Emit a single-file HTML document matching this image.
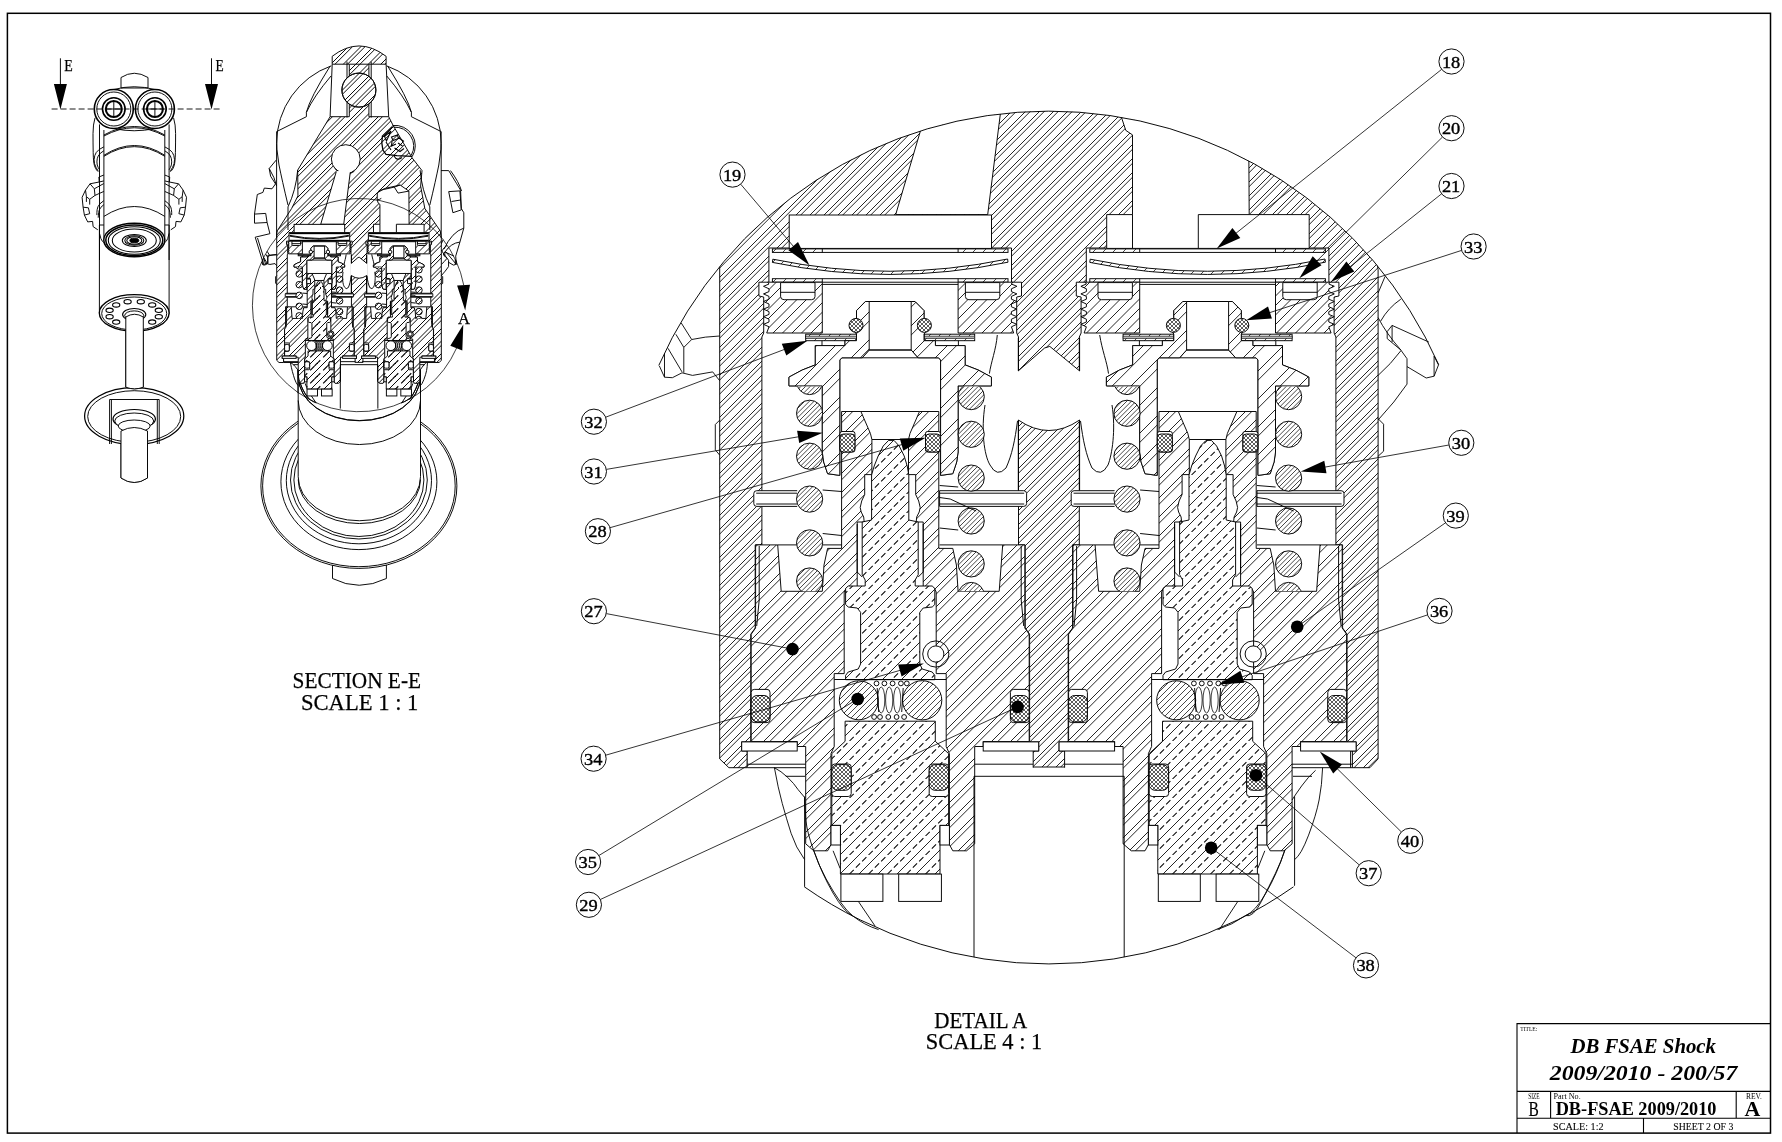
<!DOCTYPE html><html><head><meta charset="utf-8"><title>DB FSAE Shock</title><style>html,body{margin:0;padding:0;background:#fff}svg text{font-family:"Liberation Serif",serif;fill:#000}</style></head><body><svg width="1782" height="1142" viewBox="0 0 1782 1142" style="display:block;filter:grayscale(1)"><defs><pattern id="hH" patternUnits="userSpaceOnUse" width="14" height="14"><path d="M-1 4L4 -1M2 15L15 2M-1 8.74L8.74 -1M6.74 15L15 6.74" stroke="#000" stroke-width="0.85" fill="none"/></pattern><pattern id="hB" patternUnits="userSpaceOnUse" width="19" height="19"><path d="M-1 5L5 -1M3 20L20 3M-1 11.31L11.31 -1M9.31 20L20 9.31" stroke="#000" stroke-width="0.85" fill="none"/></pattern><pattern id="hC" patternUnits="userSpaceOnUse" width="28" height="28"><path d="M-1 6L6 -1M4 29L29 4M-1 15.19L15.19 -1M13.19 29L29 13.19" stroke="#000" stroke-width="0.85" fill="none"/></pattern><pattern id="hN" patternUnits="userSpaceOnUse" width="19" height="19"><path d="M-1 5L5 -1M3 20L20 3M-1 14.5L14.5 -1M12.5 20L20 12.5" stroke="#000" stroke-width="0.85" fill="none"/></pattern><pattern id="hS" patternUnits="userSpaceOnUse" width="14" height="14"><path d="M-1 3L3 -1M1 15L15 1M-1 7.67L7.67 -1M5.67 15L15 5.67M-1 12.33L12.33 -1M10.33 15L15 10.33" stroke="#000" stroke-width="0.7224999999999999" fill="none"/></pattern><pattern id="hL" patternUnits="userSpaceOnUse" width="6" height="6"><path d="M-1 4L4 -1M2 7L7 2" stroke="#000" stroke-width="0.7224999999999999" fill="none"/></pattern><pattern id="hT" patternUnits="userSpaceOnUse" width="10" height="10"><path d="M-1 6L6 -1M4 11L11 4" stroke="#000" stroke-width="0.7224999999999999" fill="none"/></pattern><pattern id="hD" patternUnits="userSpaceOnUse" width="19" height="19"><path d="M-1 5L5 -1M3 20L20 3" stroke="#000" stroke-width="0.85" fill="none"/><path d="M13.5 19L19 13.5" stroke="#000" stroke-width="1.02" fill="none" stroke-dasharray="5.97 2.99"/><path d="M0 13.5L13.5 0" stroke="#000" stroke-width="1.02" fill="none" stroke-dasharray="5.97 2.99" stroke-dashoffset="7.78"/></pattern><pattern id="hX" patternUnits="userSpaceOnUse" width="4" height="4"><path d="M-1 3L3 -1M1 5L5 1" stroke="#000" stroke-width="0.6375" fill="none"/><path d="M1 -1L5 3M-1 1L3 5" stroke="#000" stroke-width="0.6375" fill="none"/></pattern><pattern id="hHs" patternUnits="userSpaceOnUse" width="25" height="25" patternTransform="translate(0.8 1.6) scale(4)"><path d="M-1 3L3 -1M1 26L26 1M-1 7.2L7.2 -1M5.2 26L26 5.2M-1 15.5L15.5 -1M13.5 26L26 13.5M-1 19.7L19.7 -1M17.7 26L26 17.7" stroke="#000" stroke-width="0.95" fill="none"/></pattern><pattern id="hBs" patternUnits="userSpaceOnUse" width="25" height="25" patternTransform="translate(0.8 1.6) scale(4)"><path d="M-1 3L3 -1M1 26L26 1M-1 7.2L7.2 -1M5.2 26L26 5.2M-1 15.5L15.5 -1M13.5 26L26 13.5M-1 19.7L19.7 -1M17.7 26L26 17.7" stroke="#000" stroke-width="0.95" fill="none"/></pattern><pattern id="hCs" patternUnits="userSpaceOnUse" width="14" height="14" patternTransform="translate(0.8 1.6) scale(4)"><path d="M-1 4L4 -1M2 15L15 2M-1 8.67L8.67 -1M6.67 15L15 6.67" stroke="#000" stroke-width="0.95" fill="none"/></pattern><pattern id="hNs" patternUnits="userSpaceOnUse" width="7" height="7" patternTransform="translate(0.8 1.6) scale(4)"><path d="M-1 4.5L4.5 -1M2.5 8L8 2.5" stroke="#000" stroke-width="0.95" fill="none"/></pattern><pattern id="hSs" patternUnits="userSpaceOnUse" width="4" height="4" patternTransform="translate(0.8 1.6) scale(4)"><path d="M-1 3L3 -1M1 5L5 1" stroke="#000" stroke-width="0.76" fill="none"/></pattern><pattern id="hLs" patternUnits="userSpaceOnUse" width="5" height="5" patternTransform="translate(0.8 1.6) scale(4)"></pattern><pattern id="hTs" patternUnits="userSpaceOnUse" width="7" height="7" patternTransform="translate(0.8 1.6) scale(4)"><path d="M-1 4.5L4.5 -1M2.5 8L8 2.5" stroke="#000" stroke-width="0.95" fill="none"/></pattern><pattern id="hDs" patternUnits="userSpaceOnUse" width="13" height="13" patternTransform="translate(0.8 1.6) scale(4)"><path d="M-1 4L4 -1M2 14L14 2" stroke="#000" stroke-width="0.95" fill="none"/><path d="M9.5 13L13 9.5" stroke="#000" stroke-width="1.14" fill="none" stroke-dasharray="8.17 4.09"/><path d="M0 9.5L9.5 0" stroke="#000" stroke-width="1.14" fill="none" stroke-dasharray="8.17 4.09" stroke-dashoffset="4.95"/></pattern><pattern id="hXs" patternUnits="userSpaceOnUse" width="3" height="3" patternTransform="translate(0.8 1.6) scale(4)"></pattern></defs><rect x="0" y="0" width="1782" height="1142" fill="#fff"/><rect x="7.4" y="13.3" width="1763.1" height="1119.8" fill="none" stroke="#000" stroke-width="1.5"/><path d="M121 431V478Q134.2 487 147.5 478V431Z" stroke="#000" stroke-width="0.95" fill="#fff"/><ellipse cx="134.2" cy="416.1" rx="49.6" ry="28.4" fill="#fff" stroke="#000" stroke-width="1.2349999999999999"/><ellipse cx="134.2" cy="416.5" rx="46.5" ry="25.8" fill="#fff" stroke="#000" stroke-width="0.95"/><path d="M109.6 444V399.5H159.2V444M111.4 444V400M157.3 444V400" stroke="#000" stroke-width="0.95" fill="none"/><ellipse cx="134.2" cy="419" rx="21.2" ry="9.5" fill="#fff" stroke="#000" stroke-width="1.2349999999999999"/><ellipse cx="134.2" cy="421" rx="19.5" ry="8" fill="#fff" stroke="#000" stroke-width="0.95"/><ellipse cx="134.2" cy="426" rx="16" ry="6" fill="#fff" stroke="#000" stroke-width="0.95"/><path d="M121 431V478Q134.2 487 147.5 478V431Q134.2 424 121 431Z" stroke="#000" stroke-width="0.95" fill="#fff"/><path d="M125.8 315.9V387.2Q134.5 390.5 143.3 387.2V315.9Z" stroke="#000" stroke-width="0.95" fill="#fff"/><path d="M99.4 225V313A34.9 18.3 0 0 0 169.1 313V225Z" stroke="#000" stroke-width="0.95" fill="#fff"/><ellipse cx="134.2" cy="313" rx="34.9" ry="18.3" fill="#fff" stroke="#000" stroke-width="1.3299999999999998"/><ellipse cx="134.2" cy="313.5" rx="32.5" ry="16.5" fill="#fff" stroke="#000" stroke-width="0.95"/><ellipse cx="158.8" cy="316.7" rx="3.6" ry="2.2" fill="#fff" stroke="#000" stroke-width="1.14"/><ellipse cx="152.2" cy="322.1" rx="3.6" ry="2.2" fill="#fff" stroke="#000" stroke-width="1.14"/><ellipse cx="116.2" cy="322.1" rx="3.6" ry="2.2" fill="#fff" stroke="#000" stroke-width="1.14"/><ellipse cx="109.6" cy="316.7" rx="3.6" ry="2.2" fill="#fff" stroke="#000" stroke-width="1.14"/><ellipse cx="109.6" cy="310.3" rx="3.6" ry="2.2" fill="#fff" stroke="#000" stroke-width="1.14"/><ellipse cx="116.2" cy="304.9" rx="3.6" ry="2.2" fill="#fff" stroke="#000" stroke-width="1.14"/><ellipse cx="127.6" cy="301.7" rx="3.6" ry="2.2" fill="#fff" stroke="#000" stroke-width="1.14"/><ellipse cx="140.8" cy="301.7" rx="3.6" ry="2.2" fill="#fff" stroke="#000" stroke-width="1.14"/><ellipse cx="152.2" cy="304.9" rx="3.6" ry="2.2" fill="#fff" stroke="#000" stroke-width="1.14"/><ellipse cx="158.8" cy="310.3" rx="3.6" ry="2.2" fill="#fff" stroke="#000" stroke-width="1.14"/><ellipse cx="134.2" cy="314.5" rx="11.6" ry="6" fill="#fff" stroke="#000" stroke-width="1.14"/><ellipse cx="134.2" cy="315.5" rx="9.5" ry="4.6" fill="#fff" stroke="#000" stroke-width="0.95"/><path d="M125.8 317V387.2Q134.5 390.5 143.3 387.2V317Q134.5 311.5 125.8 317Z" stroke="#000" stroke-width="0.95" fill="#fff"/><path d="M95 117.9Q93 124.4 93 133.6Q93 142.8 93.2 152.7Q93.4 162.5 94.5 165.8Q95.6 169.1 96.9 170.4L98.2 171.7" stroke="#000" stroke-width="0.95" fill="none"/><path d="M173.6 117.9Q175.6 124.4 175.6 133.6Q175.6 142.8 175.4 152.7Q175.2 162.5 174.1 165.8Q173 169.1 171.7 170.4L170.4 171.7" stroke="#000" stroke-width="0.95" fill="none"/><path d="M99.5 124.4L99.5 260" stroke="#000" stroke-width="0.95" fill="none"/><path d="M169.1 124.4L169.1 260" stroke="#000" stroke-width="0.95" fill="none"/><path d="M103.9 146.8Q98.2 149.4 96.3 152.4Q94.3 155.3 94.1 159.6Q93.9 163.8 96.1 167.5L98.2 171.1" stroke="#000" stroke-width="0.95" fill="none"/><path d="M164.7 146.8Q170.4 149.4 172.3 152.4Q174.3 155.3 174.5 159.6Q174.7 163.8 172.5 167.5L170.4 171.1" stroke="#000" stroke-width="0.95" fill="none"/><path d="M103.9 150.7Q99.5 153.3 98.2 156Q96.9 158.6 96.9 161.9Q96.9 165.2 98.2 167.5L99.5 169.8" stroke="#000" stroke-width="0.95" fill="none"/><path d="M164.7 150.7Q169.1 153.3 170.4 156Q171.7 158.6 171.7 161.9Q171.7 165.2 170.4 167.5L169.1 169.8" stroke="#000" stroke-width="0.95" fill="none"/><path d="M103.9 175L98.9 177L99.2 182L90 183.8L85.5 190.1L82.1 197.3L83.1 207.2L84.4 215.1L87.7 221.9L92.6 221.4L93.1 226.6L97.8 229.8" stroke="#000" stroke-width="0.95" fill="none"/><path d="M164.7 175L169.7 177L169.4 182L178.6 183.8L183.1 190.1L186.5 197.3L185.5 207.2L184.2 215.1L180.9 221.9L176 221.4L175.5 226.6L170.8 229.8" stroke="#000" stroke-width="0.95" fill="none"/><path d="M85.5 190.1L86.4 196.7L89.7 199.3L95 195.4L94.3 188.8L90 183.8" stroke="#000" stroke-width="0.95" fill="none"/><path d="M183.1 190.1L182.2 196.7L178.9 199.3L173.6 195.4L174.3 188.8L178.6 183.8" stroke="#000" stroke-width="0.95" fill="none"/><path d="M83.1 207.2L88.4 207.8L89.7 213.7L84.4 215.1" stroke="#000" stroke-width="0.95" fill="none"/><path d="M185.5 207.2L180.2 207.8L178.9 213.7L184.2 215.1" stroke="#000" stroke-width="0.95" fill="none"/><path d="M99.2 182L103.9 180.9" stroke="#000" stroke-width="0.95" fill="none"/><path d="M169.4 182L164.7 180.9" stroke="#000" stroke-width="0.95" fill="none"/><path d="M94.3 188.8L103.9 183.5" stroke="#000" stroke-width="0.95" fill="none"/><path d="M174.3 188.8L164.7 183.5" stroke="#000" stroke-width="0.95" fill="none"/><path d="M95 195.4L103.9 191.4" stroke="#000" stroke-width="0.95" fill="none"/><path d="M173.6 195.4L164.7 191.4" stroke="#000" stroke-width="0.95" fill="none"/><path d="M86.4 196.7L86.4 201.9" stroke="#000" stroke-width="0.95" fill="none"/><path d="M182.2 196.7L182.2 201.9" stroke="#000" stroke-width="0.95" fill="none"/><path d="M89.7 199.3L89.7 204.6" stroke="#000" stroke-width="0.95" fill="none"/><path d="M178.9 199.3L178.9 204.6" stroke="#000" stroke-width="0.95" fill="none"/><path d="M103.9 200.6Q98.9 203.9 97.9 206.8Q96.9 209.8 96.9 212.4L96.9 215.1" stroke="#000" stroke-width="0.95" fill="none"/><path d="M164.7 200.6Q169.7 203.9 170.7 206.8Q171.7 209.8 171.7 212.4L171.7 215.1" stroke="#000" stroke-width="0.95" fill="none"/><path d="M103.9 204.6Q100.2 207.4 99.3 209.9Q98.5 212.4 98.4 215.1L98.2 217.7" stroke="#000" stroke-width="0.95" fill="none"/><path d="M164.7 204.6Q168.4 207.4 169.3 209.9Q170.1 212.4 170.2 215.1L170.4 217.7" stroke="#000" stroke-width="0.95" fill="none"/><path d="M99.5 233.4Q100.9 240 102.4 241.3L103.9 242.6" stroke="#000" stroke-width="0.95" fill="none"/><path d="M169.1 233.4Q167.7 240 166.2 241.3L164.7 242.6" stroke="#000" stroke-width="0.95" fill="none"/><path d="M103.9 130V240A30.5 16.7 0 0 0 164.8 240V130" stroke="#000" stroke-width="0.95" fill="#fff"/><path d="M103.9 135Q134.3 118 164.8 135M103.9 136Q134.3 119.5 164.8 136M103.9 155.3Q134.3 135.7 164.8 155.3M103.9 156.3Q134.3 137 164.8 156.3M103.9 216.4Q134.3 196.6 164.8 216.4" stroke="#000" stroke-width="0.95" fill="none"/><ellipse cx="134.3" cy="240" rx="30.5" ry="16.7" fill="#fff" stroke="#000" stroke-width="1.4249999999999998"/><ellipse cx="134.3" cy="240.3" rx="28.5" ry="15.3" fill="none" stroke="#000" stroke-width="1.52"/><ellipse cx="134.3" cy="240.5" rx="26" ry="13.8" fill="none" stroke="#000" stroke-width="1.045"/><ellipse cx="134.3" cy="240.5" rx="22" ry="11.5" fill="none" stroke="#000" stroke-width="1.045"/><ellipse cx="134.3" cy="240.5" rx="12" ry="6" fill="none" stroke="#000" stroke-width="1.045"/><ellipse cx="134.3" cy="240.5" rx="9.5" ry="4.8" fill="none" stroke="#000" stroke-width="1.045"/><ellipse cx="134.3" cy="240.5" rx="7.5" ry="3.8" fill="none" stroke="#000" stroke-width="1.045"/><ellipse cx="134.3" cy="240.5" rx="4.5" ry="2.3" fill="#000" stroke="#000" stroke-width="0.95"/><path d="M121 88V77.5Q134.2 69 148 77.5V88Z" stroke="#000" stroke-width="0.95" fill="#fff"/><path d="M113.8 89.5Q134 84 154.9 89.5M113.8 128.5Q134 133 154.9 128.5" stroke="#000" stroke-width="0.95" fill="none"/><circle cx="113.8" cy="109" r="19.5" fill="#fff" stroke="#000" stroke-width="1.615"/><circle cx="113.8" cy="109" r="17" stroke="#000" stroke-width="0.95" fill="none"/><circle cx="113.8" cy="109" r="11.3" fill="none" stroke="#000" stroke-width="1.615"/><circle cx="113.8" cy="109" r="8" fill="none" stroke="#000" stroke-width="2.09"/><path d="M113.8 101V117M105.8 109H121.8" stroke="#000" stroke-width="0.95" fill="none"/><circle cx="154.9" cy="109" r="19.5" fill="#fff" stroke="#000" stroke-width="1.615"/><circle cx="154.9" cy="109" r="17" stroke="#000" stroke-width="0.95" fill="none"/><circle cx="154.9" cy="109" r="11.3" fill="none" stroke="#000" stroke-width="1.615"/><circle cx="154.9" cy="109" r="8" fill="none" stroke="#000" stroke-width="2.09"/><path d="M154.9 101V117M146.9 109H162.9" stroke="#000" stroke-width="0.95" fill="none"/><path d="M51.6 109H220.8" stroke="#000" stroke-width="0.9" stroke-dasharray="6 3" fill="none"/><path d="M60.4 58.3V90M211.5 58.3V90" stroke="#000" stroke-width="0.95" fill="none"/><path d="M60.4 109.4L53.9 83.9H66.9ZM211.5 109.4L205 83.9H218Z" fill="#000"/><text x="64.3" y="71.2" font-size="16.8" font-weight="normal" font-style="normal" textLength="8.5" lengthAdjust="spacingAndGlyphs" stroke="#000" stroke-width="0.25">E</text><text x="215.4" y="71.2" font-size="16.8" font-weight="normal" font-style="normal" textLength="8.2" lengthAdjust="spacingAndGlyphs" stroke="#000" stroke-width="0.25">E</text><path d="M332.5 565V578.5Q359 592 386.4 578.5V565Z" fill="#fff" stroke="#000" stroke-width="0.95"/><ellipse cx="358.9" cy="485.9" rx="98" ry="82.5" fill="#fff" stroke="#000" stroke-width="0.95"/><ellipse cx="358.9" cy="485.9" rx="96.3" ry="80.8" fill="#fff" stroke="#000" stroke-width="0.95"/><ellipse cx="358.9" cy="481.8" rx="78" ry="67.8" fill="#fff" stroke="#000" stroke-width="0.95"/><ellipse cx="358.9" cy="480.6" rx="72.6" ry="63.2" fill="#fff" stroke="#000" stroke-width="0.95"/><ellipse cx="358.9" cy="480" rx="68.4" ry="59" fill="#fff" stroke="#000" stroke-width="0.95"/><ellipse cx="358.9" cy="480" rx="65" ry="56.5" fill="#fff" stroke="#000" stroke-width="0.95"/><path d="M298.2 370V476.7A61.1 44 0 0 0 420.5 476.7V370Z" fill="#fff" stroke="none"/><path d="M298.2 370V476.7A61.1 44 0 0 0 420.5 476.7M298.2 479.5A61.1 44 0 0 0 420.5 479.5M420.5 370V476.7" stroke="#000" stroke-width="0.95" fill="none"/><path d="M298.2 400.5A61.1 44 0 0 0 420.5 400.5" stroke="#000" stroke-width="0.95" fill="none"/><path d="M298.2 376.5A61.1 44 0 0 0 420.5 376.5M298.6 377.5A60.6 43.2 0 0 0 420.1 377.5" stroke="#000" stroke-width="0.95" fill="none"/><path d="M276.6 143.3A82.3 82.3 0 0 1 331.3 65.8M386.5 65.8A82.3 82.3 0 0 1 441.2 143.3" stroke="#000" stroke-width="0.95" fill="none"/><path d="M276.6 143.3V238M441.2 143.3V238" stroke="#000" stroke-width="0.95" fill="none"/><path d="M276.6 131.6L306.4 116.7V112.3Q310 98 330 66.3M276.6 131.6Q276 150 279 165T288 205.1M297.7 170.1Q296 190 288 206.9V230M306.4 112.3Q314 96 331 76" stroke="#000" stroke-width="0.95" fill="none"/><path d="M441.2 131.6L411.4 116.7V112.3Q407.8 98 387.8 66.3M441.2 131.6Q441.8 150 438.8 165T429.8 205.1M420.1 170.1Q421.8 190 429.8 206.9V230M411.4 112.3Q403.8 96 386.8 76" stroke="#000" stroke-width="0.95" fill="none"/><path d="M276.2 160.1L269.2 168.5L270.6 176.2L275.5 183.9L272 188.8L264.3 188.1L262.9 192.4L257.3 194.5L254.5 214.1L265.7 213.4L267.1 222.5L254.5 223.2V214.1M267.1 222.5L269.9 233.7L255.2 237.2L263.6 264.5L267.8 263.1V255.4L276.5 254.7M257.5 238L265.5 263.8M269.2 168.5Q275 178 276.6 186" stroke="#000" stroke-width="0.95" fill="none"/><path d="M441 170.6H448.7L456.4 183.2L460.6 190.2L461.3 208.5L463.8 212.7V228.1L459.9 242.1L455.7 256.1L456.4 264.5L446 252M448.7 191.6L459.9 190.9L461.3 209.9L452.9 212.7ZM451.5 201.5L460.6 200M463.8 228.1Q452 232 444 249M459.9 242.1Q451 243 445 252M450.5 170.6Q459 182 461.5 191" stroke="#000" stroke-width="0.95" fill="none"/><g transform="translate(96.8 170.6) scale(0.25)"><g><path d="M941.6 -457.2L941.6 -425.6L1010 -425.6L1010 -215.6L933.2 -215.6L803.6 -2L804.6 101L779.4 151.4L723.4 238.3L719.7 250L719.7 758.9L728.9 767.7L747.3 767.7L747.3 751L760 741L1030 741L1032.2 767L1065.6 767L1072 741L1340 741L1352.4 751L1352.4 767.7L1369.9 767.7L1378.1 758.9L1378.1 269.6L1373.8 241.1L1312.1 151.4L1295.3 61.8L1300.9 0L1261.7 -50.3L1185.2 -180.8L1167.6 -215.6L1088.4 -215.6L1088.4 -425.6L1157.2 -425.6L1157.2 -457.2Q1048.4 -540 941.6 -457.2Z" fill="url(#hHs)" stroke="#000" stroke-width="3.8"/><path d="M941.6 -425.6L933.2 -215.6M1157.2 -425.6L1167.6 -215.6M1000.8 -436V-212M1097.6 -436V-212M1010 -425.6H1088.4" fill="none" stroke="#000" stroke-width="3.8"/><circle cx="1048.4" cy="-322" r="68" fill="#fff" stroke="#000" stroke-width="3.8"/><circle cx="1048.4" cy="-322" r="68" fill="url(#hBs)" stroke="#000" stroke-width="3.8"/><circle cx="996" cy="-46" r="57.6" fill="#fff" stroke="#000" stroke-width="3.8"/><path d="M953 -8Q990 30 1030 3" fill="none" stroke="#000" stroke-width="3.8"/><path d="M747.2 767.7L747.2 751L741.7 751L741.7 741.9L750.8 741.9L750.8 634.2L755.2 628L755.2 544.9L761.9 544.9L761.9 337L763.7 333L763.7 297L758.9 296L758.9 282.2L768.9 282.2L768.9 248L1011.5 248L1011.5 282.2L1021.5 282.2L1021.5 296L1016.7 297L1016.7 333L1018.5 337L1018.5 544.9L1025.2 544.9L1025.2 628L1029.6 634.2L1029.6 741.9L1038.7 741.9L1038.7 751L1033.2 751L1033.2 767.7L1033.2 800L747.2 800Z" fill="#fff" stroke="none"/><path d="M747.2 767.7L747.2 751L741.7 751L741.7 741.9L750.8 741.9L750.8 634.2L755.2 628L755.2 544.9L761.9 544.9L761.9 337L763.7 333L763.7 297L758.9 296L758.9 282.2L768.9 282.2L768.9 248L1011.5 248L1011.5 282.2L1021.5 282.2L1021.5 296L1016.7 297L1016.7 333L1018.5 337L1018.5 544.9L1025.2 544.9L1025.2 628L1029.6 634.2L1029.6 741.9L1038.7 741.9L1038.7 751L1033.2 751L1033.2 767.7" fill="none" stroke="#000" stroke-width="3.8"/><path d="M1064.6 767.7L1064.6 751L1059.1 751L1059.1 741.9L1068.2 741.9L1068.2 634.2L1072.6 628L1072.6 544.9L1079.3 544.9L1079.3 337L1081.1 333L1081.1 297L1076.3 296L1076.3 282.2L1086.3 282.2L1086.3 248L1328.9 248L1328.9 282.2L1338.9 282.2L1338.9 296L1334.1 297L1334.1 333L1335.9 337L1335.9 544.9L1342.6 544.9L1342.6 628L1347 634.2L1347 741.9L1356.1 741.9L1356.1 751L1350.6 751L1350.6 767.7L1350.6 800L1064.6 800Z" fill="#fff" stroke="none"/><path d="M1064.6 767.7L1064.6 751L1059.1 751L1059.1 741.9L1068.2 741.9L1068.2 634.2L1072.6 628L1072.6 544.9L1079.3 544.9L1079.3 337L1081.1 333L1081.1 297L1076.3 296L1076.3 282.2L1086.3 282.2L1086.3 248L1328.9 248L1328.9 282.2L1338.9 282.2L1338.9 296L1334.1 297L1334.1 333L1335.9 337L1335.9 544.9L1342.6 544.9L1342.6 628L1347 634.2L1347 741.9L1356.1 741.9L1356.1 751L1350.6 751L1350.6 767.7" fill="none" stroke="#000" stroke-width="3.8"/><path d="M957.6 5.2L895.7 214.6L987.7 214.6L1013.6 8.4L996 -10Z" fill="#fff" stroke="none"/><path d="M957.6 5.2L895.7 214.6H987.7L1013.6 8.4" fill="none" stroke="#000" stroke-width="3.8"/><rect x="789.2" y="215" width="202.3" height="33.4" fill="#fff" stroke="#000" stroke-width="3.8"/><path d="M1121.3 116.9L1122 89.2L1150 72L1213.2 57.6L1248.4 82L1249.2 214.6L1309.2 214.6L1309.2 248.4L1106.7 248.4L1106.7 214.6L1132.5 214.6L1132.5 134.9L1125.8 130.4Z" fill="#fff" stroke="#000" stroke-width="3.8"/><path d="M1132.5 214.6V248.4M1198.3 248.4V214.6H1249.2" fill="none" stroke="#000" stroke-width="3.8"/><path d="M1121.3 116.9Q1132 116 1138 111M1128 80L1190 66L1213.2 57.6M1190 66L1205 90L1248.4 82" fill="none" stroke="#000" stroke-width="3.8"/><path d="M1016.5 372.4L1018.3 370.9L1044.6 348L1049.8 346.4L1079.6 370.9L1081.4 372.4V418.7L1079.6 420Q1048.9 441 1018.3 420L1016.5 418.7Z" fill="#fff" stroke="none"/><path d="M1018.3 337.7V370.9L1044.6 348L1049.8 346.4L1079.6 370.9V337.7M1079.6 490V420Q1048.9 441 1018.3 420V490" fill="none" stroke="#000" stroke-width="3.8"/><path d="M997.3 335C996 350 991 362 989.4 373.6M985 405C981 430 984 455 990 465Q997 478 1006 468C1012 455 1015 440 1017.5 421" fill="none" stroke="#000" stroke-width="3.8"/><path d="M1099.7 335C1102 350 1107 362 1108.5 373.6M1112 405C1116 430 1112 455 1108 465Q1101 478 1092 468C1086 455 1083 440 1080.5 421" fill="none" stroke="#000" stroke-width="3.8"/><rect x="772.4" y="248.9" width="235.6" height="3.5" rx="0" fill="#fff" stroke="#000" stroke-width="3.8"/><path d="M772.4 248.9H822.3V252.4H772.4ZM958.1 248.9H1008V252.4H958.1Z" fill="url(#hTs)" stroke="none"/><path d="M822.3 248.9L822.3 252.4" fill="none" stroke="#000" stroke-width="3.8" /><path d="M958.1 248.9L958.1 252.4" fill="none" stroke="#000" stroke-width="3.8" /><rect x="772.4" y="278.7" width="235.6" height="3.5" rx="0" fill="#fff" stroke="#000" stroke-width="3.8"/><path d="M772.4 278.7H822.3V282.2H772.4ZM958.1 278.7H1008V282.2H958.1Z" fill="url(#hTs)" stroke="none"/><path d="M822.3 278.7L822.3 282.2" fill="none" stroke="#000" stroke-width="3.8" /><path d="M958.1 278.7L958.1 282.2" fill="none" stroke="#000" stroke-width="3.8" /><path d="M772.8 259.2Q890.2 283.4 1007.6 259L1008 262.2Q890.2 286.6 772.4 262.4Z" fill="#fff"/><path d="M772.8 259.2Q890.2 283.4 1007.6 259L1008 262.2Q890.2 286.6 772.4 262.4Z" fill="url(#hTs)" stroke="#000" stroke-width="3.8"/><path d="M822.3 282.2L767.7 282.2L769 284L763.5 286.3L769 288.8L769 291.6L763.5 293.9L769 296.4L769 299.2L763.5 301.5L769 304L769 306.8L763.5 309.1L769 311.6L769 314.4L763.5 316.7L769 319.2L769 322L763.5 324.3L769 326.8L766.7 333L822.3 333Z" fill="#fff"/><path d="M822.3 282.2L767.7 282.2L769 284L763.5 286.3L769 288.8L769 291.6L763.5 293.9L769 296.4L769 299.2L763.5 301.5L769 304L769 306.8L763.5 309.1L769 311.6L769 314.4L763.5 316.7L769 319.2L769 322L763.5 324.3L769 326.8L766.7 333L822.3 333Z" fill="url(#hNs)" stroke="#000" stroke-width="3.8" /><path d="M780.6 282.6V296.5Q780.6 299.7 784.1 299.7H811.5Q815 299.7 815 296.5V282.6Z" fill="#fff" stroke="#000" stroke-width="3.8"/><path d="M780.6 292.3L815 292.3" fill="none" stroke="#000" stroke-width="3.8" /><path d="M958.1 282.2L1012.7 282.2L1011.4 284L1016.9 286.3L1011.4 288.8L1011.4 291.6L1016.9 293.9L1011.4 296.4L1011.4 299.2L1016.9 301.5L1011.4 304L1011.4 306.8L1016.9 309.1L1011.4 311.6L1011.4 314.4L1016.9 316.7L1011.4 319.2L1011.4 322L1016.9 324.3L1011.4 326.8L1013.7 333L958.1 333Z" fill="#fff"/><path d="M958.1 282.2L1012.7 282.2L1011.4 284L1016.9 286.3L1011.4 288.8L1011.4 291.6L1016.9 293.9L1011.4 296.4L1011.4 299.2L1016.9 301.5L1011.4 304L1011.4 306.8L1016.9 309.1L1011.4 311.6L1011.4 314.4L1016.9 316.7L1011.4 319.2L1011.4 322L1016.9 324.3L1011.4 326.8L1013.7 333L958.1 333Z" fill="url(#hNs)" stroke="#000" stroke-width="3.8" /><path d="M965.4 282.6V296.5Q965.4 299.7 968.9 299.7H996.3Q999.8 299.7 999.8 296.5V282.6Z" fill="#fff" stroke="#000" stroke-width="3.8"/><path d="M965.4 292.3L999.8 292.3" fill="none" stroke="#000" stroke-width="3.8" /><path d="M822.3 284.4L958.1 284.4" fill="none" stroke="#000" stroke-width="3.8" /><rect x="805.7" y="334.2" width="50.8" height="6.5" fill="#fff"/><rect x="805.7" y="334.2" width="50.8" height="6.5" rx="0" fill="url(#hTs)" stroke="#000" stroke-width="3.8"/><rect x="805.7" y="336.1" width="50.8" height="2.5" fill="#b4b4b4" stroke="#000" stroke-width="2.28"/><rect x="923.9" y="334.2" width="50.8" height="6.5" fill="#fff"/><rect x="923.9" y="334.2" width="50.8" height="6.5" rx="0" fill="url(#hTs)" stroke="#000" stroke-width="3.8"/><rect x="923.9" y="336.1" width="50.8" height="2.5" fill="#b4b4b4" stroke="#000" stroke-width="2.28"/><path d="M869.2 301.5L865.4 301.5L856.5 310.6L856.5 318L853.7 321L853.7 330L856.5 334L856.5 340.7L845 340.7L845 345.6L815.3 345.6L815.3 364.9L802.2 370L789 377.1L789 385.9L822.3 385.9L822.3 452L823.7 462L827.6 473.7L839.8 475.4L839.8 360L841.8 357.8L862.2 357.8L869.2 350L911.2 350L918.2 357.8L938.6 357.8L940.6 360L940.6 475.4L952.8 473.7L956.7 462L958.1 452L958.1 385.9L991.4 385.9L991.4 377.1L978.2 370L965.1 364.9L965.1 345.6L935.4 345.6L935.4 340.7L924 340.7L924 334L926.7 330L926.7 321L924 318L924 310.6L915 301.5L911.2 301.5Z" fill="#fff" stroke="#000" stroke-width="3.8" /><path d="M869.2 301.5L865.4 301.5L856.5 310.6L856.5 318L853.7 321L853.7 330L856.5 334L856.5 340.7L845 340.7L845 345.6L815.3 345.6L815.3 364.9L802.2 370L789 377.1L789 385.9L822.3 385.9L822.3 452L823.7 462L827.6 473.7L839.8 475.4L839.8 360L841.8 357.8L862.2 357.8L869.2 350Z" fill="#fff"/><path d="M869.2 301.5L865.4 301.5L856.5 310.6L856.5 318L853.7 321L853.7 330L856.5 334L856.5 340.7L845 340.7L845 345.6L815.3 345.6L815.3 364.9L802.2 370L789 377.1L789 385.9L822.3 385.9L822.3 452L823.7 462L827.6 473.7L839.8 475.4L839.8 360L841.8 357.8L862.2 357.8L869.2 350Z" fill="url(#hCs)" stroke="#000" stroke-width="3.8" /><path d="M911.2 350L918.2 357.8L938.6 357.8L940.6 360L940.6 475.4L952.8 473.7L956.7 462L958.1 452L958.1 385.9L991.4 385.9L991.4 377.1L978.2 370L965.1 364.9L965.1 345.6L935.4 345.6L935.4 340.7L924 340.7L924 334L926.7 330L926.7 321L924 318L924 310.6L915 301.5L911.2 301.5Z" fill="#fff"/><path d="M911.2 350L918.2 357.8L938.6 357.8L940.6 360L940.6 475.4L952.8 473.7L956.7 462L958.1 452L958.1 385.9L991.4 385.9L991.4 377.1L978.2 370L965.1 364.9L965.1 345.6L935.4 345.6L935.4 340.7L924 340.7L924 334L926.7 330L926.7 321L924 318L924 310.6L915 301.5L911.2 301.5Z" fill="url(#hCs)" stroke="#000" stroke-width="3.8" /><path d="M869.2 301.5L911.2 301.5" fill="none" stroke="#000" stroke-width="3.8" /><path d="M862.2 357.8L918.2 357.8" fill="none" stroke="#000" stroke-width="3.8" /><path d="M869.2 350L911.2 350" fill="none" stroke="#000" stroke-width="3.8" /><path d="M822 340.7L822 345.6" fill="none" stroke="#000" stroke-width="3.8" /><path d="M958.4 340.7L958.4 345.6" fill="none" stroke="#000" stroke-width="3.8" /><circle cx="856" cy="325.4" r="7" fill="#fff"/><circle cx="856" cy="325.4" r="7" fill="url(#hXs)" stroke="#000" stroke-width="3.8"/><circle cx="924.4" cy="325.4" r="7" fill="#fff"/><circle cx="924.4" cy="325.4" r="7" fill="url(#hXs)" stroke="#000" stroke-width="3.8"/><path d="M860.9 411.5L841.6 411.5L841.6 548.4L827.6 548.4L824 565L822.3 591.3L781.2 591.3L777.7 544.9L755.6 544.9L755.6 628L751.2 634.2L751.2 741.5L797.2 741.5L797.2 746.5L805.7 746.5L805.7 843.8L813.8 850.8L827.6 850.8L831 844.6L831 753.6L834.2 746.5L834.2 673.6L844.2 673.6L844.2 592L846.2 588L857.2 588L857.2 522L864.2 522L863.7 517L861.2 512L860.2 507.5L861.7 501L864.7 494.5L864.7 474.6L871.9 474.6L871.9 439.5L870.4 433.4Z" fill="#fff"/><path d="M860.9 411.5L841.6 411.5L841.6 548.4L827.6 548.4L824 565L822.3 591.3L781.2 591.3L777.7 544.9L755.6 544.9L755.6 628L751.2 634.2L751.2 741.5L797.2 741.5L797.2 746.5L805.7 746.5L805.7 843.8L813.8 850.8L827.6 850.8L831 844.6L831 753.6L834.2 746.5L834.2 673.6L844.2 673.6L844.2 592L846.2 588L857.2 588L857.2 522L864.2 522L863.7 517L861.2 512L860.2 507.5L861.7 501L864.7 494.5L864.7 474.6L871.9 474.6L871.9 439.5L870.4 433.4Z" fill="url(#hBs)" stroke="#000" stroke-width="3.8" /><path d="M910 433.4L908.5 439.5L908.5 474.6L915.7 474.6L915.7 494.5L918.7 501L920.2 507.5L919.2 512L916.7 517L916.2 522L923.2 522L923.2 588L934.2 588L936.2 592L936.2 673.6L946.2 673.6L946.2 746.5L949.4 753.6L949.4 844.6L952.8 850.8L966.6 850.8L974.7 843.8L974.7 746.5L983.2 746.5L983.2 741.5L1029.2 741.5L1029.2 634.2L1024.8 628L1024.8 544.9L1002.7 544.9L999.2 591.3L958.1 591.3L956.4 565L952.8 548.4L938.8 548.4L938.8 411.5L919.5 411.5Z" fill="#fff"/><path d="M910 433.4L908.5 439.5L908.5 474.6L915.7 474.6L915.7 494.5L918.7 501L920.2 507.5L919.2 512L916.7 517L916.2 522L923.2 522L923.2 588L934.2 588L936.2 592L936.2 673.6L946.2 673.6L946.2 746.5L949.4 753.6L949.4 844.6L952.8 850.8L966.6 850.8L974.7 843.8L974.7 746.5L983.2 746.5L983.2 741.5L1029.2 741.5L1029.2 634.2L1024.8 628L1024.8 544.9L1002.7 544.9L999.2 591.3L958.1 591.3L956.4 565L952.8 548.4L938.8 548.4L938.8 411.5L919.5 411.5Z" fill="url(#hBs)" stroke="#000" stroke-width="3.8" /><path d="M759.2 546L759.2 600L756.7 626" fill="none" stroke="#000" stroke-width="3.8" /><path d="M1021.2 546L1021.2 600L1023.7 626" fill="none" stroke="#000" stroke-width="3.8" /><rect x="751.2" y="689.4" width="18.8" height="33.2" rx="3" fill="#fff" stroke="#000" stroke-width="3.8"/><rect x="751.2" y="695.5" width="18.8" height="26.3" rx="6" fill="#fff"/><rect x="751.2" y="695.5" width="18.8" height="26.3" rx="6" fill="url(#hXs)" stroke="#000" stroke-width="3.8"/><rect x="1010.4" y="689.4" width="18.8" height="33.2" rx="3" fill="#fff" stroke="#000" stroke-width="3.8"/><rect x="1010.4" y="695.5" width="18.8" height="26.3" rx="6" fill="#fff"/><rect x="1010.4" y="695.5" width="18.8" height="26.3" rx="6" fill="url(#hXs)" stroke="#000" stroke-width="3.8"/><rect x="840" y="431.5" width="14.9" height="20.5" rx="2" fill="#fff" stroke="#000" stroke-width="3.8"/><rect x="840" y="434" width="14.9" height="18" rx="3.5" fill="#fff"/><rect x="840" y="434" width="14.9" height="18" rx="3.5" fill="url(#hXs)" stroke="#000" stroke-width="3.8"/><rect x="925.5" y="431.5" width="14.9" height="20.5" rx="2" fill="#fff" stroke="#000" stroke-width="3.8"/><rect x="925.5" y="434" width="14.9" height="18" rx="3.5" fill="#fff"/><rect x="925.5" y="434" width="14.9" height="18" rx="3.5" fill="url(#hXs)" stroke="#000" stroke-width="3.8"/><path d="M871.9 439.5L908.5 439.5" fill="none" stroke="#000" stroke-width="3.8" /><path d="M888.6 440.4L883.2 446L878.2 456L874.2 466L871.6 475L871.6 520L862.2 522L862.2 574.7L865.2 580L865.2 586L848.2 586L845.6 588.5L845.6 604.5L848.2 607L857.2 608L860.6 612.3L860.6 664L858.2 669L848.2 672L845.6 675.4L845.6 679.7L934.8 679.7L934.8 675.4L932.2 672L922.2 669L919.8 664L919.8 612.3L923.2 608L932.2 607L934.8 604.5L934.8 588.5L932.2 586L915.2 586L915.2 580L918.2 574.7L918.2 522L908.8 520L908.8 475L907.2 466L904.2 456L899.2 446L894 440.4Z" fill="#fff"/><path d="M888.6 440.4L883.2 446L878.2 456L874.2 466L871.6 475L871.6 520L862.2 522L862.2 574.7L865.2 580L865.2 586L848.2 586L845.6 588.5L845.6 604.5L848.2 607L857.2 608L860.6 612.3L860.6 664L858.2 669L848.2 672L845.6 675.4L845.6 679.7L934.8 679.7L934.8 675.4L932.2 672L922.2 669L919.8 664L919.8 612.3L923.2 608L932.2 607L934.8 604.5L934.8 588.5L932.2 586L915.2 586L915.2 580L918.2 574.7L918.2 522L908.8 520L908.8 475L907.2 466L904.2 456L899.2 446L894 440.4Z" fill="url(#hDs)" stroke="#000" stroke-width="3.8" /><path d="M860.9 411.5L919.5 411.5" fill="none" stroke="#000" stroke-width="3.8" /><path d="M857.2 524L857.2 572L862.2 577" fill="none" stroke="#000" stroke-width="3.8" /><path d="M923.2 524L923.2 572L918.2 577" fill="none" stroke="#000" stroke-width="3.8" /><circle cx="935.8" cy="654" r="13.1" fill="none" stroke="#000" stroke-width="3.8"/><circle cx="935.8" cy="654" r="8.1" fill="#fff" stroke="#000" stroke-width="3.8"/><path d="M834.2 679.5L946.2 679.5" fill="none" stroke="#000" stroke-width="3.8" /><circle cx="858.8" cy="700.3" r="19.5" fill="#fff"/><circle cx="858.8" cy="700.3" r="19.5" fill="url(#hLs)" stroke="#000" stroke-width="3.8"/><circle cx="922.2" cy="700.3" r="19.6" fill="#fff"/><circle cx="922.2" cy="700.3" r="19.6" fill="url(#hLs)" stroke="#000" stroke-width="3.8"/><circle cx="876.5" cy="683.4" r="2.4" fill="#fff" stroke="#000" stroke-width="3.8"/><circle cx="884.4" cy="683.4" r="2.4" fill="#fff" stroke="#000" stroke-width="3.8"/><circle cx="892.6" cy="683.4" r="2.4" fill="#fff" stroke="#000" stroke-width="3.8"/><circle cx="900.9" cy="683.4" r="2.4" fill="#fff" stroke="#000" stroke-width="3.8"/><circle cx="906.8" cy="683.4" r="2.4" fill="#fff" stroke="#000" stroke-width="3.8"/><circle cx="874.1" cy="717" r="2.4" fill="#fff" stroke="#000" stroke-width="3.8"/><circle cx="880" cy="717" r="2.4" fill="#fff" stroke="#000" stroke-width="3.8"/><circle cx="888.3" cy="717" r="2.4" fill="#fff" stroke="#000" stroke-width="3.8"/><circle cx="896.6" cy="717" r="2.4" fill="#fff" stroke="#000" stroke-width="3.8"/><circle cx="904.1" cy="717" r="2.4" fill="#fff" stroke="#000" stroke-width="3.8"/><ellipse cx="881.2" cy="700" rx="3.6" ry="13" fill="none" stroke="#000" stroke-width="3.04"/><ellipse cx="889.2" cy="700" rx="3.6" ry="13" fill="none" stroke="#000" stroke-width="3.04"/><ellipse cx="897.2" cy="700" rx="3.6" ry="13" fill="none" stroke="#000" stroke-width="3.04"/><path d="M877.2 688L878.7 712" fill="none" stroke="#000" stroke-width="3.8" /><path d="M903.2 688L901.7 712" fill="none" stroke="#000" stroke-width="3.8" /><path d="M845.1 721.2L845.1 741.3L831.8 753.6L831.8 825.4L840.4 825.4L840.4 874L940 874L940 825.4L948.6 825.4L948.6 753.6L935.3 741.3L935.3 721.2Z" fill="#fff"/><path d="M845.1 721.2L845.1 741.3L831.8 753.6L831.8 825.4L840.4 825.4L840.4 874L940 874L940 825.4L948.6 825.4L948.6 753.6L935.3 741.3L935.3 721.2Z" fill="url(#hDs)" stroke="#000" stroke-width="3.8" /><rect x="831.8" y="764" width="19.4" height="32.5" rx="3" fill="#fff" stroke="#000" stroke-width="3.8"/><rect x="831.8" y="764.6" width="19.4" height="25.7" rx="6" fill="#fff"/><rect x="831.8" y="764.6" width="19.4" height="25.7" rx="6" fill="url(#hXs)" stroke="#000" stroke-width="3.8"/><rect x="831" y="825.4" width="9.4" height="19.6" rx="0" fill="#fff" stroke="#000" stroke-width="3.8"/><rect x="929.2" y="764" width="19.4" height="32.5" rx="3" fill="#fff" stroke="#000" stroke-width="3.8"/><rect x="929.2" y="764.6" width="19.4" height="25.7" rx="6" fill="#fff"/><rect x="929.2" y="764.6" width="19.4" height="25.7" rx="6" fill="url(#hXs)" stroke="#000" stroke-width="3.8"/><rect x="940" y="825.4" width="9.4" height="19.6" rx="0" fill="#fff" stroke="#000" stroke-width="3.8"/><rect x="840.9" y="874.1" width="42" height="27.3" rx="0" fill="#fff" stroke="#000" stroke-width="3.8"/><rect x="898.7" y="874.1" width="42.7" height="27.3" rx="0" fill="#fff" stroke="#000" stroke-width="3.8"/><path d="M797.2 490.7H756.7Q753.8 490.7 753.8 493.5V503.6Q753.8 506.4 756.7 506.4H797.2" fill="#fff" stroke="#000" stroke-width="3.8"/><path d="M797.2 493.2L756.2 493.2" fill="none" stroke="#000" stroke-width="3.8" /><path d="M797.2 504L756.2 504" fill="none" stroke="#000" stroke-width="3.8" /><path d="M939.6 490.7H1023.7Q1026.6 490.7 1026.6 493.5V503.6Q1026.6 506.4 1023.7 506.4H939.6Z" fill="#fff" stroke="#000" stroke-width="3.8"/><path d="M939.6 493.2L1024.2 493.2" fill="none" stroke="#000" stroke-width="3.8" /><path d="M939.6 504L1024.2 504" fill="none" stroke="#000" stroke-width="3.8" /><path d="M777.7 544.9L841.6 544.9" fill="none" stroke="#000" stroke-width="3.8" /><path d="M939.6 544.9L1002.7 544.9" fill="none" stroke="#000" stroke-width="3.8" /><clipPath id="cl890s"><rect x="750.2" y="386.4" width="280" height="204.9"/></clipPath><g clip-path="url(#cl890s)"><circle cx="809.6" cy="381.5" r="13.1" fill="#fff"/><circle cx="809.6" cy="381.5" r="13.1" fill="url(#hSs)" stroke="#000" stroke-width="3.8"/><circle cx="809.6" cy="413.3" r="13.1" fill="#fff"/><circle cx="809.6" cy="413.3" r="13.1" fill="url(#hSs)" stroke="#000" stroke-width="3.8"/><circle cx="809.6" cy="456.2" r="13.1" fill="#fff"/><circle cx="809.6" cy="456.2" r="13.1" fill="url(#hSs)" stroke="#000" stroke-width="3.8"/><circle cx="809.6" cy="499.1" r="13.1" fill="#fff"/><circle cx="809.6" cy="499.1" r="13.1" fill="url(#hSs)" stroke="#000" stroke-width="3.8"/><circle cx="809.6" cy="542.9" r="13.1" fill="#fff"/><circle cx="809.6" cy="542.9" r="13.1" fill="url(#hSs)" stroke="#000" stroke-width="3.8"/><circle cx="809.6" cy="581" r="13.1" fill="#fff"/><circle cx="809.6" cy="581" r="13.1" fill="url(#hSs)" stroke="#000" stroke-width="3.8"/><circle cx="971.2" cy="396.6" r="13.1" fill="#fff"/><circle cx="971.2" cy="396.6" r="13.1" fill="url(#hSs)" stroke="#000" stroke-width="3.8"/><circle cx="971.2" cy="434.3" r="13.1" fill="#fff"/><circle cx="971.2" cy="434.3" r="13.1" fill="url(#hSs)" stroke="#000" stroke-width="3.8"/><circle cx="971.2" cy="478.1" r="13.1" fill="#fff"/><circle cx="971.2" cy="478.1" r="13.1" fill="url(#hSs)" stroke="#000" stroke-width="3.8"/><circle cx="971.2" cy="521" r="13.1" fill="#fff"/><circle cx="971.2" cy="521" r="13.1" fill="url(#hSs)" stroke="#000" stroke-width="3.8"/><circle cx="971.2" cy="563.9" r="13.1" fill="#fff"/><circle cx="971.2" cy="563.9" r="13.1" fill="url(#hSs)" stroke="#000" stroke-width="3.8"/><circle cx="971.2" cy="595.5" r="13.1" fill="#fff"/><circle cx="971.2" cy="595.5" r="13.1" fill="url(#hSs)" stroke="#000" stroke-width="3.8"/></g><path d="M822.7 490L841.6 491.5" fill="none" stroke="#000" stroke-width="3.8" /><path d="M822.7 533.5L841.6 535.5" fill="none" stroke="#000" stroke-width="3.8" /><path d="M939.6 485.5L958.2 487" fill="none" stroke="#000" stroke-width="3.8" /><path d="M939.6 528L958.2 530" fill="none" stroke="#000" stroke-width="3.8" /><path d="M939.6 497.5L950.2 499L965.2 506L976.2 511" fill="none" stroke="#000" stroke-width="3.8" /><rect x="741.7" y="741.9" width="55.5" height="9.1" rx="0" fill="#fff" stroke="#000" stroke-width="3.8"/><rect x="983.2" y="741.9" width="55.5" height="9.1" rx="0" fill="#fff" stroke="#000" stroke-width="3.8"/><rect x="1089.8" y="248.9" width="235.6" height="3.5" rx="0" fill="#fff" stroke="#000" stroke-width="3.8"/><path d="M1089.8 248.9H1139.7V252.4H1089.8ZM1275.5 248.9H1325.4V252.4H1275.5Z" fill="url(#hTs)" stroke="none"/><path d="M1139.7 248.9L1139.7 252.4" fill="none" stroke="#000" stroke-width="3.8" /><path d="M1275.5 248.9L1275.5 252.4" fill="none" stroke="#000" stroke-width="3.8" /><rect x="1089.8" y="278.7" width="235.6" height="3.5" rx="0" fill="#fff" stroke="#000" stroke-width="3.8"/><path d="M1089.8 278.7H1139.7V282.2H1089.8ZM1275.5 278.7H1325.4V282.2H1275.5Z" fill="url(#hTs)" stroke="none"/><path d="M1139.7 278.7L1139.7 282.2" fill="none" stroke="#000" stroke-width="3.8" /><path d="M1275.5 278.7L1275.5 282.2" fill="none" stroke="#000" stroke-width="3.8" /><path d="M1090.2 259.2Q1207.6 283.4 1325 259L1325.4 262.2Q1207.6 286.6 1089.8 262.4Z" fill="#fff"/><path d="M1090.2 259.2Q1207.6 283.4 1325 259L1325.4 262.2Q1207.6 286.6 1089.8 262.4Z" fill="url(#hTs)" stroke="#000" stroke-width="3.8"/><path d="M1139.7 282.2L1085.1 282.2L1086.4 284L1080.9 286.3L1086.4 288.8L1086.4 291.6L1080.9 293.9L1086.4 296.4L1086.4 299.2L1080.9 301.5L1086.4 304L1086.4 306.8L1080.9 309.1L1086.4 311.6L1086.4 314.4L1080.9 316.7L1086.4 319.2L1086.4 322L1080.9 324.3L1086.4 326.8L1084.1 333L1139.7 333Z" fill="#fff"/><path d="M1139.7 282.2L1085.1 282.2L1086.4 284L1080.9 286.3L1086.4 288.8L1086.4 291.6L1080.9 293.9L1086.4 296.4L1086.4 299.2L1080.9 301.5L1086.4 304L1086.4 306.8L1080.9 309.1L1086.4 311.6L1086.4 314.4L1080.9 316.7L1086.4 319.2L1086.4 322L1080.9 324.3L1086.4 326.8L1084.1 333L1139.7 333Z" fill="url(#hNs)" stroke="#000" stroke-width="3.8" /><path d="M1098 282.6V296.5Q1098 299.7 1101.5 299.7H1128.9Q1132.4 299.7 1132.4 296.5V282.6Z" fill="#fff" stroke="#000" stroke-width="3.8"/><path d="M1098 292.3L1132.4 292.3" fill="none" stroke="#000" stroke-width="3.8" /><path d="M1275.5 282.2L1330.1 282.2L1328.8 284L1334.3 286.3L1328.8 288.8L1328.8 291.6L1334.3 293.9L1328.8 296.4L1328.8 299.2L1334.3 301.5L1328.8 304L1328.8 306.8L1334.3 309.1L1328.8 311.6L1328.8 314.4L1334.3 316.7L1328.8 319.2L1328.8 322L1334.3 324.3L1328.8 326.8L1331.1 333L1275.5 333Z" fill="#fff"/><path d="M1275.5 282.2L1330.1 282.2L1328.8 284L1334.3 286.3L1328.8 288.8L1328.8 291.6L1334.3 293.9L1328.8 296.4L1328.8 299.2L1334.3 301.5L1328.8 304L1328.8 306.8L1334.3 309.1L1328.8 311.6L1328.8 314.4L1334.3 316.7L1328.8 319.2L1328.8 322L1334.3 324.3L1328.8 326.8L1331.1 333L1275.5 333Z" fill="url(#hNs)" stroke="#000" stroke-width="3.8" /><path d="M1282.8 282.6V296.5Q1282.8 299.7 1286.3 299.7H1313.7Q1317.2 299.7 1317.2 296.5V282.6Z" fill="#fff" stroke="#000" stroke-width="3.8"/><path d="M1282.8 292.3L1317.2 292.3" fill="none" stroke="#000" stroke-width="3.8" /><path d="M1139.7 284.4L1275.5 284.4" fill="none" stroke="#000" stroke-width="3.8" /><rect x="1123.1" y="334.2" width="50.8" height="6.5" fill="#fff"/><rect x="1123.1" y="334.2" width="50.8" height="6.5" rx="0" fill="url(#hTs)" stroke="#000" stroke-width="3.8"/><rect x="1123.1" y="336.1" width="50.8" height="2.5" fill="#b4b4b4" stroke="#000" stroke-width="2.28"/><rect x="1241.3" y="334.2" width="50.8" height="6.5" fill="#fff"/><rect x="1241.3" y="334.2" width="50.8" height="6.5" rx="0" fill="url(#hTs)" stroke="#000" stroke-width="3.8"/><rect x="1241.3" y="336.1" width="50.8" height="2.5" fill="#b4b4b4" stroke="#000" stroke-width="2.28"/><path d="M1186.6 301.5L1182.8 301.5L1173.8 310.6L1173.8 318L1171.1 321L1171.1 330L1173.8 334L1173.8 340.7L1162.4 340.7L1162.4 345.6L1132.7 345.6L1132.7 364.9L1119.6 370L1106.4 377.1L1106.4 385.9L1139.7 385.9L1139.7 452L1141.1 462L1145 473.7L1157.2 475.4L1157.2 360L1159.2 357.8L1179.6 357.8L1186.6 350L1228.6 350L1235.6 357.8L1256 357.8L1258 360L1258 475.4L1270.2 473.7L1274.1 462L1275.5 452L1275.5 385.9L1308.8 385.9L1308.8 377.1L1295.6 370L1282.5 364.9L1282.5 345.6L1252.8 345.6L1252.8 340.7L1241.3 340.7L1241.3 334L1244.1 330L1244.1 321L1241.3 318L1241.3 310.6L1232.4 301.5L1228.6 301.5Z" fill="#fff" stroke="#000" stroke-width="3.8" /><path d="M1186.6 301.5L1182.8 301.5L1173.8 310.6L1173.8 318L1171.1 321L1171.1 330L1173.8 334L1173.8 340.7L1162.4 340.7L1162.4 345.6L1132.7 345.6L1132.7 364.9L1119.6 370L1106.4 377.1L1106.4 385.9L1139.7 385.9L1139.7 452L1141.1 462L1145 473.7L1157.2 475.4L1157.2 360L1159.2 357.8L1179.6 357.8L1186.6 350Z" fill="#fff"/><path d="M1186.6 301.5L1182.8 301.5L1173.8 310.6L1173.8 318L1171.1 321L1171.1 330L1173.8 334L1173.8 340.7L1162.4 340.7L1162.4 345.6L1132.7 345.6L1132.7 364.9L1119.6 370L1106.4 377.1L1106.4 385.9L1139.7 385.9L1139.7 452L1141.1 462L1145 473.7L1157.2 475.4L1157.2 360L1159.2 357.8L1179.6 357.8L1186.6 350Z" fill="url(#hCs)" stroke="#000" stroke-width="3.8" /><path d="M1228.6 350L1235.6 357.8L1256 357.8L1258 360L1258 475.4L1270.2 473.7L1274.1 462L1275.5 452L1275.5 385.9L1308.8 385.9L1308.8 377.1L1295.6 370L1282.5 364.9L1282.5 345.6L1252.8 345.6L1252.8 340.7L1241.3 340.7L1241.3 334L1244.1 330L1244.1 321L1241.3 318L1241.3 310.6L1232.4 301.5L1228.6 301.5Z" fill="#fff"/><path d="M1228.6 350L1235.6 357.8L1256 357.8L1258 360L1258 475.4L1270.2 473.7L1274.1 462L1275.5 452L1275.5 385.9L1308.8 385.9L1308.8 377.1L1295.6 370L1282.5 364.9L1282.5 345.6L1252.8 345.6L1252.8 340.7L1241.3 340.7L1241.3 334L1244.1 330L1244.1 321L1241.3 318L1241.3 310.6L1232.4 301.5L1228.6 301.5Z" fill="url(#hCs)" stroke="#000" stroke-width="3.8" /><path d="M1186.6 301.5L1228.6 301.5" fill="none" stroke="#000" stroke-width="3.8" /><path d="M1179.6 357.8L1235.6 357.8" fill="none" stroke="#000" stroke-width="3.8" /><path d="M1186.6 350L1228.6 350" fill="none" stroke="#000" stroke-width="3.8" /><path d="M1139.4 340.7L1139.4 345.6" fill="none" stroke="#000" stroke-width="3.8" /><path d="M1275.8 340.7L1275.8 345.6" fill="none" stroke="#000" stroke-width="3.8" /><circle cx="1173.4" cy="325.4" r="7" fill="#fff"/><circle cx="1173.4" cy="325.4" r="7" fill="url(#hXs)" stroke="#000" stroke-width="3.8"/><circle cx="1241.8" cy="325.4" r="7" fill="#fff"/><circle cx="1241.8" cy="325.4" r="7" fill="url(#hXs)" stroke="#000" stroke-width="3.8"/><path d="M1178.3 411.5L1159 411.5L1159 548.4L1145 548.4L1141.4 565L1139.7 591.3L1098.6 591.3L1095.1 544.9L1073 544.9L1073 628L1068.6 634.2L1068.6 741.5L1114.6 741.5L1114.6 746.5L1123.1 746.5L1123.1 843.8L1131.2 850.8L1145 850.8L1148.4 844.6L1148.4 753.6L1151.6 746.5L1151.6 673.6L1161.6 673.6L1161.6 592L1163.6 588L1174.6 588L1174.6 522L1181.6 522L1181.1 517L1178.6 512L1177.6 507.5L1179.1 501L1182.1 494.5L1182.1 474.6L1189.3 474.6L1189.3 439.5L1187.8 433.4Z" fill="#fff"/><path d="M1178.3 411.5L1159 411.5L1159 548.4L1145 548.4L1141.4 565L1139.7 591.3L1098.6 591.3L1095.1 544.9L1073 544.9L1073 628L1068.6 634.2L1068.6 741.5L1114.6 741.5L1114.6 746.5L1123.1 746.5L1123.1 843.8L1131.2 850.8L1145 850.8L1148.4 844.6L1148.4 753.6L1151.6 746.5L1151.6 673.6L1161.6 673.6L1161.6 592L1163.6 588L1174.6 588L1174.6 522L1181.6 522L1181.1 517L1178.6 512L1177.6 507.5L1179.1 501L1182.1 494.5L1182.1 474.6L1189.3 474.6L1189.3 439.5L1187.8 433.4Z" fill="url(#hBs)" stroke="#000" stroke-width="3.8" /><path d="M1227.4 433.4L1225.9 439.5L1225.9 474.6L1233.1 474.6L1233.1 494.5L1236.1 501L1237.6 507.5L1236.6 512L1234.1 517L1233.6 522L1240.6 522L1240.6 588L1251.6 588L1253.6 592L1253.6 673.6L1263.6 673.6L1263.6 746.5L1266.8 753.6L1266.8 844.6L1270.2 850.8L1284 850.8L1292.1 843.8L1292.1 746.5L1300.6 746.5L1300.6 741.5L1346.6 741.5L1346.6 634.2L1342.2 628L1342.2 544.9L1320.1 544.9L1316.6 591.3L1275.5 591.3L1273.8 565L1270.2 548.4L1256.2 548.4L1256.2 411.5L1236.9 411.5Z" fill="#fff"/><path d="M1227.4 433.4L1225.9 439.5L1225.9 474.6L1233.1 474.6L1233.1 494.5L1236.1 501L1237.6 507.5L1236.6 512L1234.1 517L1233.6 522L1240.6 522L1240.6 588L1251.6 588L1253.6 592L1253.6 673.6L1263.6 673.6L1263.6 746.5L1266.8 753.6L1266.8 844.6L1270.2 850.8L1284 850.8L1292.1 843.8L1292.1 746.5L1300.6 746.5L1300.6 741.5L1346.6 741.5L1346.6 634.2L1342.2 628L1342.2 544.9L1320.1 544.9L1316.6 591.3L1275.5 591.3L1273.8 565L1270.2 548.4L1256.2 548.4L1256.2 411.5L1236.9 411.5Z" fill="url(#hBs)" stroke="#000" stroke-width="3.8" /><path d="M1076.6 546L1076.6 600L1074.1 626" fill="none" stroke="#000" stroke-width="3.8" /><path d="M1338.6 546L1338.6 600L1341.1 626" fill="none" stroke="#000" stroke-width="3.8" /><rect x="1068.6" y="689.4" width="18.8" height="33.2" rx="3" fill="#fff" stroke="#000" stroke-width="3.8"/><rect x="1068.6" y="695.5" width="18.8" height="26.3" rx="6" fill="#fff"/><rect x="1068.6" y="695.5" width="18.8" height="26.3" rx="6" fill="url(#hXs)" stroke="#000" stroke-width="3.8"/><rect x="1327.8" y="689.4" width="18.8" height="33.2" rx="3" fill="#fff" stroke="#000" stroke-width="3.8"/><rect x="1327.8" y="695.5" width="18.8" height="26.3" rx="6" fill="#fff"/><rect x="1327.8" y="695.5" width="18.8" height="26.3" rx="6" fill="url(#hXs)" stroke="#000" stroke-width="3.8"/><rect x="1157.4" y="431.5" width="14.9" height="20.5" rx="2" fill="#fff" stroke="#000" stroke-width="3.8"/><rect x="1157.4" y="434" width="14.9" height="18" rx="3.5" fill="#fff"/><rect x="1157.4" y="434" width="14.9" height="18" rx="3.5" fill="url(#hXs)" stroke="#000" stroke-width="3.8"/><rect x="1242.9" y="431.5" width="14.9" height="20.5" rx="2" fill="#fff" stroke="#000" stroke-width="3.8"/><rect x="1242.9" y="434" width="14.9" height="18" rx="3.5" fill="#fff"/><rect x="1242.9" y="434" width="14.9" height="18" rx="3.5" fill="url(#hXs)" stroke="#000" stroke-width="3.8"/><path d="M1189.3 439.5L1225.9 439.5" fill="none" stroke="#000" stroke-width="3.8" /><path d="M1206 440.4L1200.6 446L1195.6 456L1191.6 466L1189 475L1189 520L1179.6 522L1179.6 574.7L1182.6 580L1182.6 586L1165.6 586L1163 588.5L1163 604.5L1165.6 607L1174.6 608L1178 612.3L1178 664L1175.6 669L1165.6 672L1163 675.4L1163 679.7L1252.2 679.7L1252.2 675.4L1249.6 672L1239.6 669L1237.2 664L1237.2 612.3L1240.6 608L1249.6 607L1252.2 604.5L1252.2 588.5L1249.6 586L1232.6 586L1232.6 580L1235.6 574.7L1235.6 522L1226.2 520L1226.2 475L1224.6 466L1221.6 456L1216.6 446L1211.4 440.4Z" fill="#fff"/><path d="M1206 440.4L1200.6 446L1195.6 456L1191.6 466L1189 475L1189 520L1179.6 522L1179.6 574.7L1182.6 580L1182.6 586L1165.6 586L1163 588.5L1163 604.5L1165.6 607L1174.6 608L1178 612.3L1178 664L1175.6 669L1165.6 672L1163 675.4L1163 679.7L1252.2 679.7L1252.2 675.4L1249.6 672L1239.6 669L1237.2 664L1237.2 612.3L1240.6 608L1249.6 607L1252.2 604.5L1252.2 588.5L1249.6 586L1232.6 586L1232.6 580L1235.6 574.7L1235.6 522L1226.2 520L1226.2 475L1224.6 466L1221.6 456L1216.6 446L1211.4 440.4Z" fill="url(#hDs)" stroke="#000" stroke-width="3.8" /><path d="M1178.3 411.5L1236.9 411.5" fill="none" stroke="#000" stroke-width="3.8" /><path d="M1174.6 524L1174.6 572L1179.6 577" fill="none" stroke="#000" stroke-width="3.8" /><path d="M1240.6 524L1240.6 572L1235.6 577" fill="none" stroke="#000" stroke-width="3.8" /><circle cx="1253.2" cy="654" r="13.1" fill="none" stroke="#000" stroke-width="3.8"/><circle cx="1253.2" cy="654" r="8.1" fill="#fff" stroke="#000" stroke-width="3.8"/><path d="M1151.6 679.5L1263.6 679.5" fill="none" stroke="#000" stroke-width="3.8" /><circle cx="1176.2" cy="700.3" r="19.5" fill="#fff"/><circle cx="1176.2" cy="700.3" r="19.5" fill="url(#hLs)" stroke="#000" stroke-width="3.8"/><circle cx="1239.6" cy="700.3" r="19.6" fill="#fff"/><circle cx="1239.6" cy="700.3" r="19.6" fill="url(#hLs)" stroke="#000" stroke-width="3.8"/><circle cx="1193.9" cy="683.4" r="2.4" fill="#fff" stroke="#000" stroke-width="3.8"/><circle cx="1201.8" cy="683.4" r="2.4" fill="#fff" stroke="#000" stroke-width="3.8"/><circle cx="1210" cy="683.4" r="2.4" fill="#fff" stroke="#000" stroke-width="3.8"/><circle cx="1218.3" cy="683.4" r="2.4" fill="#fff" stroke="#000" stroke-width="3.8"/><circle cx="1224.2" cy="683.4" r="2.4" fill="#fff" stroke="#000" stroke-width="3.8"/><circle cx="1191.5" cy="717" r="2.4" fill="#fff" stroke="#000" stroke-width="3.8"/><circle cx="1197.4" cy="717" r="2.4" fill="#fff" stroke="#000" stroke-width="3.8"/><circle cx="1205.7" cy="717" r="2.4" fill="#fff" stroke="#000" stroke-width="3.8"/><circle cx="1214" cy="717" r="2.4" fill="#fff" stroke="#000" stroke-width="3.8"/><circle cx="1221.5" cy="717" r="2.4" fill="#fff" stroke="#000" stroke-width="3.8"/><ellipse cx="1198.6" cy="700" rx="3.6" ry="13" fill="none" stroke="#000" stroke-width="3.04"/><ellipse cx="1206.6" cy="700" rx="3.6" ry="13" fill="none" stroke="#000" stroke-width="3.04"/><ellipse cx="1214.6" cy="700" rx="3.6" ry="13" fill="none" stroke="#000" stroke-width="3.04"/><path d="M1194.6 688L1196.1 712" fill="none" stroke="#000" stroke-width="3.8" /><path d="M1220.6 688L1219.1 712" fill="none" stroke="#000" stroke-width="3.8" /><path d="M1162.5 721.2L1162.5 741.3L1149.2 753.6L1149.2 825.4L1157.8 825.4L1157.8 874L1257.4 874L1257.4 825.4L1266 825.4L1266 753.6L1252.7 741.3L1252.7 721.2Z" fill="#fff"/><path d="M1162.5 721.2L1162.5 741.3L1149.2 753.6L1149.2 825.4L1157.8 825.4L1157.8 874L1257.4 874L1257.4 825.4L1266 825.4L1266 753.6L1252.7 741.3L1252.7 721.2Z" fill="url(#hDs)" stroke="#000" stroke-width="3.8" /><rect x="1149.2" y="764" width="19.4" height="32.5" rx="3" fill="#fff" stroke="#000" stroke-width="3.8"/><rect x="1149.2" y="764.6" width="19.4" height="25.7" rx="6" fill="#fff"/><rect x="1149.2" y="764.6" width="19.4" height="25.7" rx="6" fill="url(#hXs)" stroke="#000" stroke-width="3.8"/><rect x="1148.4" y="825.4" width="9.4" height="19.6" rx="0" fill="#fff" stroke="#000" stroke-width="3.8"/><rect x="1246.6" y="764" width="19.4" height="32.5" rx="3" fill="#fff" stroke="#000" stroke-width="3.8"/><rect x="1246.6" y="764.6" width="19.4" height="25.7" rx="6" fill="#fff"/><rect x="1246.6" y="764.6" width="19.4" height="25.7" rx="6" fill="url(#hXs)" stroke="#000" stroke-width="3.8"/><rect x="1257.4" y="825.4" width="9.4" height="19.6" rx="0" fill="#fff" stroke="#000" stroke-width="3.8"/><rect x="1158.3" y="874.1" width="42" height="27.3" rx="0" fill="#fff" stroke="#000" stroke-width="3.8"/><rect x="1216.1" y="874.1" width="42.7" height="27.3" rx="0" fill="#fff" stroke="#000" stroke-width="3.8"/><path d="M1114.6 490.7H1074.1Q1071.2 490.7 1071.2 493.5V503.6Q1071.2 506.4 1074.1 506.4H1114.6" fill="#fff" stroke="#000" stroke-width="3.8"/><path d="M1114.6 493.2L1073.6 493.2" fill="none" stroke="#000" stroke-width="3.8" /><path d="M1114.6 504L1073.6 504" fill="none" stroke="#000" stroke-width="3.8" /><path d="M1257 490.7H1341.1Q1344 490.7 1344 493.5V503.6Q1344 506.4 1341.1 506.4H1257Z" fill="#fff" stroke="#000" stroke-width="3.8"/><path d="M1257 493.2L1341.6 493.2" fill="none" stroke="#000" stroke-width="3.8" /><path d="M1257 504L1341.6 504" fill="none" stroke="#000" stroke-width="3.8" /><path d="M1095.1 544.9L1159 544.9" fill="none" stroke="#000" stroke-width="3.8" /><path d="M1257 544.9L1320.1 544.9" fill="none" stroke="#000" stroke-width="3.8" /><clipPath id="cl1207s"><rect x="1067.6" y="386.4" width="280" height="204.9"/></clipPath><g clip-path="url(#cl1207s)"><circle cx="1127" cy="381.5" r="13.1" fill="#fff"/><circle cx="1127" cy="381.5" r="13.1" fill="url(#hSs)" stroke="#000" stroke-width="3.8"/><circle cx="1127" cy="413.3" r="13.1" fill="#fff"/><circle cx="1127" cy="413.3" r="13.1" fill="url(#hSs)" stroke="#000" stroke-width="3.8"/><circle cx="1127" cy="456.2" r="13.1" fill="#fff"/><circle cx="1127" cy="456.2" r="13.1" fill="url(#hSs)" stroke="#000" stroke-width="3.8"/><circle cx="1127" cy="499.1" r="13.1" fill="#fff"/><circle cx="1127" cy="499.1" r="13.1" fill="url(#hSs)" stroke="#000" stroke-width="3.8"/><circle cx="1127" cy="542.9" r="13.1" fill="#fff"/><circle cx="1127" cy="542.9" r="13.1" fill="url(#hSs)" stroke="#000" stroke-width="3.8"/><circle cx="1127" cy="581" r="13.1" fill="#fff"/><circle cx="1127" cy="581" r="13.1" fill="url(#hSs)" stroke="#000" stroke-width="3.8"/><circle cx="1288.6" cy="396.6" r="13.1" fill="#fff"/><circle cx="1288.6" cy="396.6" r="13.1" fill="url(#hSs)" stroke="#000" stroke-width="3.8"/><circle cx="1288.6" cy="434.3" r="13.1" fill="#fff"/><circle cx="1288.6" cy="434.3" r="13.1" fill="url(#hSs)" stroke="#000" stroke-width="3.8"/><circle cx="1288.6" cy="478.1" r="13.1" fill="#fff"/><circle cx="1288.6" cy="478.1" r="13.1" fill="url(#hSs)" stroke="#000" stroke-width="3.8"/><circle cx="1288.6" cy="521" r="13.1" fill="#fff"/><circle cx="1288.6" cy="521" r="13.1" fill="url(#hSs)" stroke="#000" stroke-width="3.8"/><circle cx="1288.6" cy="563.9" r="13.1" fill="#fff"/><circle cx="1288.6" cy="563.9" r="13.1" fill="url(#hSs)" stroke="#000" stroke-width="3.8"/><circle cx="1288.6" cy="595.5" r="13.1" fill="#fff"/><circle cx="1288.6" cy="595.5" r="13.1" fill="url(#hSs)" stroke="#000" stroke-width="3.8"/></g><path d="M1140.1 490L1159 491.5" fill="none" stroke="#000" stroke-width="3.8" /><path d="M1140.1 533.5L1159 535.5" fill="none" stroke="#000" stroke-width="3.8" /><path d="M1257 485.5L1275.6 487" fill="none" stroke="#000" stroke-width="3.8" /><path d="M1257 528L1275.6 530" fill="none" stroke="#000" stroke-width="3.8" /><path d="M1257 497.5L1267.6 499L1282.6 506L1293.6 511" fill="none" stroke="#000" stroke-width="3.8" /><rect x="1059.1" y="741.9" width="55.5" height="9.1" rx="0" fill="#fff" stroke="#000" stroke-width="3.8"/><rect x="1300.6" y="741.9" width="55.5" height="9.1" rx="0" fill="#fff" stroke="#000" stroke-width="3.8"/><path d="M747.3 764.2H805.7M974.7 764.2H1033M1064.8 764.2H1123.1M1292 764.2H1352.4M747.3 767.7H805.7M1292 767.7H1352.4M974 776.3H1124.2M785.8 776.3H805M1293 776.3H1312M974 776.3V952M1124.2 776.3V952M804.6 796.5V890M1294.6 796.5V890" fill="none" stroke="#000" stroke-width="3.8"/></g><path d="M659.3 365.8L664.5 377.2L672.4 377.7L682 372.8L692.5 375.4L712.7 371.9L719.7 380.7M681.2 322.9L691.7 339.5Q705 336.5 719.7 336M675.9 334.3L683.8 347.4L691.7 339.5M668 348.3L682 371.9M664.5 353.6V377.2M683.8 347.4V372.8M719.7 420.1L715.3 424.5V449.9L719.7 455.1M1385.1 276.4L1378.1 293M1400.8 299.2Q1388 308 1380.7 321.1M1378.1 317.6Q1386 333 1400.8 350L1407 358.7M1392.1 325.4L1428.9 342.1M1434.1 356.1L1438.5 364.9L1434.1 376.2L1426.2 378L1407 366.6M1392.1 325.4L1387.2 331.6V338.6L1400.8 350M1407 358.7V384.1M1434.1 356.1V376.2M1392.1 325.4V342.1M1407 384.1Q1395 402 1378.1 420M1400.8 350.8Q1391 364 1378.1 375.4M1377.8 418.4L1383.6 424.2V451.2L1377.8 456.5M774.4 767.7Q778 788 782.3 803.6T791.1 833.3T804.6 859.6M774.4 767.7Q781 771 787.6 777.3T798 789.5L804.6 797.4M804.6 797.4Q805 810 806 821T813.8 850.8Q819 866 826.1 878.9T840.1 901.6T852.4 915.6Q864 925 878.6 929.6M813.8 850.8Q822 874 833 893T852.4 915.6M833.1 850.8L840.1 868.4M858.5 901.6L875.1 926.1M1322.6 767.7Q1322 785 1319.1 800T1308.6 835.1T1294.6 859.6M1315.6 770.3Q1308 777 1301.6 786T1292 800M1284.9 850Q1281 862 1275.3 873.6T1261.3 901.6T1245.5 915.6Q1232 925 1217.5 929.6M1284.9 850Q1277 874 1266 893T1245.5 915.6M1264.8 850.8L1257.8 868.4M1237.7 901.6L1219.3 929.6" stroke="#000" stroke-width="3.8" fill="none"/></g><path d="M392.5 125.5A20.4 20.4 0 0 1 412.2 156.6M393.6 127.2A19 19 0 0 1 411.3 155.2" stroke="#000" stroke-width="0.95" fill="none"/><path d="M392.5 126.4L382.4 136Q381 143 382.9 150L386 154.4L396.9 155.7L412.2 156.4" fill="none" stroke="#000" stroke-width="1.3"/><path d="M391 131l-6.5 5.5 2 4.5zM391.5 137l6 -2 1 3.5 -5.5 2zM392 141l-.5 5 4.5 -2M399 138l5 3.5M394.5 148l5.5 3.5 4 -3M398 143l4.5 3M394 156q3 5.5 8 1.5M386 142l5 8" fill="none" stroke="#000" stroke-width="1.1"/><path d="M456.6 348A106.6 106.6 0 1 1 463.7 285" fill="none" stroke="#000" stroke-width="0.75"/><path d="M465.2 310.5L457.1 285.5L470 284.8ZM463.3 324.5L450.3 345.7L462.3 350.5Z" fill="#000"/><text x="458" y="323.5" font-size="16.8" font-weight="normal" font-style="normal" textLength="12" lengthAdjust="spacingAndGlyphs" stroke="#000" stroke-width="0.25">A</text><clipPath id="dc"><circle cx="1048.9" cy="537.5" r="426.4"/></clipPath><g clip-path="url(#dc)"><path d="M941.6 -457.2L941.6 -425.6L1010 -425.6L1010 -215.6L933.2 -215.6L803.6 -2L804.6 101L779.4 151.4L723.4 238.3L719.7 250L719.7 758.9L728.9 767.7L747.3 767.7L747.3 751L760 741L1030 741L1032.2 767L1065.6 767L1072 741L1340 741L1352.4 751L1352.4 767.7L1369.9 767.7L1378.1 758.9L1378.1 269.6L1373.8 241.1L1312.1 151.4L1295.3 61.8L1300.9 0L1261.7 -50.3L1185.2 -180.8L1167.6 -215.6L1088.4 -215.6L1088.4 -425.6L1157.2 -425.6L1157.2 -457.2Q1048.4 -540 941.6 -457.2Z" fill="url(#hH)" stroke="#000" stroke-width="0.95"/><path d="M747.2 767.7L747.2 751L741.7 751L741.7 741.9L750.8 741.9L750.8 634.2L755.2 628L755.2 544.9L761.9 544.9L761.9 337L763.7 333L763.7 297L758.9 296L758.9 282.2L768.9 282.2L768.9 248L1011.5 248L1011.5 282.2L1021.5 282.2L1021.5 296L1016.7 297L1016.7 333L1018.5 337L1018.5 544.9L1025.2 544.9L1025.2 628L1029.6 634.2L1029.6 741.9L1038.7 741.9L1038.7 751L1033.2 751L1033.2 767.7L1033.2 800L747.2 800Z" fill="#fff" stroke="none"/><path d="M747.2 767.7L747.2 751L741.7 751L741.7 741.9L750.8 741.9L750.8 634.2L755.2 628L755.2 544.9L761.9 544.9L761.9 337L763.7 333L763.7 297L758.9 296L758.9 282.2L768.9 282.2L768.9 248L1011.5 248L1011.5 282.2L1021.5 282.2L1021.5 296L1016.7 297L1016.7 333L1018.5 337L1018.5 544.9L1025.2 544.9L1025.2 628L1029.6 634.2L1029.6 741.9L1038.7 741.9L1038.7 751L1033.2 751L1033.2 767.7" fill="none" stroke="#000" stroke-width="0.95"/><path d="M1064.6 767.7L1064.6 751L1059.1 751L1059.1 741.9L1068.2 741.9L1068.2 634.2L1072.6 628L1072.6 544.9L1079.3 544.9L1079.3 337L1081.1 333L1081.1 297L1076.3 296L1076.3 282.2L1086.3 282.2L1086.3 248L1328.9 248L1328.9 282.2L1338.9 282.2L1338.9 296L1334.1 297L1334.1 333L1335.9 337L1335.9 544.9L1342.6 544.9L1342.6 628L1347 634.2L1347 741.9L1356.1 741.9L1356.1 751L1350.6 751L1350.6 767.7L1350.6 800L1064.6 800Z" fill="#fff" stroke="none"/><path d="M1064.6 767.7L1064.6 751L1059.1 751L1059.1 741.9L1068.2 741.9L1068.2 634.2L1072.6 628L1072.6 544.9L1079.3 544.9L1079.3 337L1081.1 333L1081.1 297L1076.3 296L1076.3 282.2L1086.3 282.2L1086.3 248L1328.9 248L1328.9 282.2L1338.9 282.2L1338.9 296L1334.1 297L1334.1 333L1335.9 337L1335.9 544.9L1342.6 544.9L1342.6 628L1347 634.2L1347 741.9L1356.1 741.9L1356.1 751L1350.6 751L1350.6 767.7" fill="none" stroke="#000" stroke-width="0.95"/><path d="M957.6 5.2L895.7 214.6L987.7 214.6L1013.6 8.4L996 -10Z" fill="#fff" stroke="none"/><path d="M957.6 5.2L895.7 214.6H987.7L1013.6 8.4" fill="none" stroke="#000" stroke-width="0.95"/><rect x="789.2" y="215" width="202.3" height="33.4" fill="#fff" stroke="#000" stroke-width="0.95"/><path d="M1121.3 116.9L1122 89.2L1150 72L1213.2 57.6L1248.4 82L1249.2 214.6L1309.2 214.6L1309.2 248.4L1106.7 248.4L1106.7 214.6L1132.5 214.6L1132.5 134.9L1125.8 130.4Z" fill="#fff" stroke="#000" stroke-width="0.95"/><path d="M1132.5 214.6V248.4M1198.3 248.4V214.6H1249.2" fill="none" stroke="#000" stroke-width="0.95"/><path d="M1121.3 116.9Q1132 116 1138 111M1128 80L1190 66L1213.2 57.6M1190 66L1205 90L1248.4 82" fill="none" stroke="#000" stroke-width="0.95"/><path d="M1016.5 372.4L1018.3 370.9L1044.6 348L1049.8 346.4L1079.6 370.9L1081.4 372.4V418.7L1079.6 420Q1048.9 441 1018.3 420L1016.5 418.7Z" fill="#fff" stroke="none"/><path d="M1018.3 337.7V370.9L1044.6 348L1049.8 346.4L1079.6 370.9V337.7M1079.6 490V420Q1048.9 441 1018.3 420V490" fill="none" stroke="#000" stroke-width="0.95"/><path d="M997.3 335C996 350 991 362 989.4 373.6M985 405C981 430 984 455 990 465Q997 478 1006 468C1012 455 1015 440 1017.5 421" fill="none" stroke="#000" stroke-width="0.95"/><path d="M1099.7 335C1102 350 1107 362 1108.5 373.6M1112 405C1116 430 1112 455 1108 465Q1101 478 1092 468C1086 455 1083 440 1080.5 421" fill="none" stroke="#000" stroke-width="0.95"/><rect x="772.4" y="248.9" width="235.6" height="3.5" rx="0" fill="#fff" stroke="#000" stroke-width="0.95"/><path d="M772.4 248.9H822.3V252.4H772.4ZM958.1 248.9H1008V252.4H958.1Z" fill="url(#hT)" stroke="none"/><path d="M822.3 248.9L822.3 252.4" fill="none" stroke="#000" stroke-width="0.95" /><path d="M958.1 248.9L958.1 252.4" fill="none" stroke="#000" stroke-width="0.95" /><rect x="772.4" y="278.7" width="235.6" height="3.5" rx="0" fill="#fff" stroke="#000" stroke-width="0.95"/><path d="M772.4 278.7H822.3V282.2H772.4ZM958.1 278.7H1008V282.2H958.1Z" fill="url(#hT)" stroke="none"/><path d="M822.3 278.7L822.3 282.2" fill="none" stroke="#000" stroke-width="0.95" /><path d="M958.1 278.7L958.1 282.2" fill="none" stroke="#000" stroke-width="0.95" /><path d="M772.8 259.2Q890.2 283.4 1007.6 259L1008 262.2Q890.2 286.6 772.4 262.4Z" fill="#fff"/><path d="M772.8 259.2Q890.2 283.4 1007.6 259L1008 262.2Q890.2 286.6 772.4 262.4Z" fill="url(#hT)" stroke="#000" stroke-width="0.95"/><path d="M822.3 282.2L767.7 282.2L769 284L763.5 286.3L769 288.8L769 291.6L763.5 293.9L769 296.4L769 299.2L763.5 301.5L769 304L769 306.8L763.5 309.1L769 311.6L769 314.4L763.5 316.7L769 319.2L769 322L763.5 324.3L769 326.8L766.7 333L822.3 333Z" fill="#fff"/><path d="M822.3 282.2L767.7 282.2L769 284L763.5 286.3L769 288.8L769 291.6L763.5 293.9L769 296.4L769 299.2L763.5 301.5L769 304L769 306.8L763.5 309.1L769 311.6L769 314.4L763.5 316.7L769 319.2L769 322L763.5 324.3L769 326.8L766.7 333L822.3 333Z" fill="url(#hN)" stroke="#000" stroke-width="0.95" /><path d="M780.6 282.6V296.5Q780.6 299.7 784.1 299.7H811.5Q815 299.7 815 296.5V282.6Z" fill="#fff" stroke="#000" stroke-width="0.95"/><path d="M780.6 292.3L815 292.3" fill="none" stroke="#000" stroke-width="0.95" /><path d="M958.1 282.2L1012.7 282.2L1011.4 284L1016.9 286.3L1011.4 288.8L1011.4 291.6L1016.9 293.9L1011.4 296.4L1011.4 299.2L1016.9 301.5L1011.4 304L1011.4 306.8L1016.9 309.1L1011.4 311.6L1011.4 314.4L1016.9 316.7L1011.4 319.2L1011.4 322L1016.9 324.3L1011.4 326.8L1013.7 333L958.1 333Z" fill="#fff"/><path d="M958.1 282.2L1012.7 282.2L1011.4 284L1016.9 286.3L1011.4 288.8L1011.4 291.6L1016.9 293.9L1011.4 296.4L1011.4 299.2L1016.9 301.5L1011.4 304L1011.4 306.8L1016.9 309.1L1011.4 311.6L1011.4 314.4L1016.9 316.7L1011.4 319.2L1011.4 322L1016.9 324.3L1011.4 326.8L1013.7 333L958.1 333Z" fill="url(#hN)" stroke="#000" stroke-width="0.95" /><path d="M965.4 282.6V296.5Q965.4 299.7 968.9 299.7H996.3Q999.8 299.7 999.8 296.5V282.6Z" fill="#fff" stroke="#000" stroke-width="0.95"/><path d="M965.4 292.3L999.8 292.3" fill="none" stroke="#000" stroke-width="0.95" /><path d="M822.3 284.4L958.1 284.4" fill="none" stroke="#000" stroke-width="0.95" /><rect x="805.7" y="334.2" width="50.8" height="6.5" fill="#fff"/><rect x="805.7" y="334.2" width="50.8" height="6.5" rx="0" fill="url(#hT)" stroke="#000" stroke-width="0.95"/><rect x="805.7" y="336.1" width="50.8" height="2.5" fill="#b4b4b4" stroke="#000" stroke-width="0.57"/><rect x="923.9" y="334.2" width="50.8" height="6.5" fill="#fff"/><rect x="923.9" y="334.2" width="50.8" height="6.5" rx="0" fill="url(#hT)" stroke="#000" stroke-width="0.95"/><rect x="923.9" y="336.1" width="50.8" height="2.5" fill="#b4b4b4" stroke="#000" stroke-width="0.57"/><path d="M869.2 301.5L865.4 301.5L856.5 310.6L856.5 318L853.7 321L853.7 330L856.5 334L856.5 340.7L845 340.7L845 345.6L815.3 345.6L815.3 364.9L802.2 370L789 377.1L789 385.9L822.3 385.9L822.3 452L823.7 462L827.6 473.7L839.8 475.4L839.8 360L841.8 357.8L862.2 357.8L869.2 350L911.2 350L918.2 357.8L938.6 357.8L940.6 360L940.6 475.4L952.8 473.7L956.7 462L958.1 452L958.1 385.9L991.4 385.9L991.4 377.1L978.2 370L965.1 364.9L965.1 345.6L935.4 345.6L935.4 340.7L924 340.7L924 334L926.7 330L926.7 321L924 318L924 310.6L915 301.5L911.2 301.5Z" fill="#fff" stroke="#000" stroke-width="0.95" /><path d="M869.2 301.5L865.4 301.5L856.5 310.6L856.5 318L853.7 321L853.7 330L856.5 334L856.5 340.7L845 340.7L845 345.6L815.3 345.6L815.3 364.9L802.2 370L789 377.1L789 385.9L822.3 385.9L822.3 452L823.7 462L827.6 473.7L839.8 475.4L839.8 360L841.8 357.8L862.2 357.8L869.2 350Z" fill="#fff"/><path d="M869.2 301.5L865.4 301.5L856.5 310.6L856.5 318L853.7 321L853.7 330L856.5 334L856.5 340.7L845 340.7L845 345.6L815.3 345.6L815.3 364.9L802.2 370L789 377.1L789 385.9L822.3 385.9L822.3 452L823.7 462L827.6 473.7L839.8 475.4L839.8 360L841.8 357.8L862.2 357.8L869.2 350Z" fill="url(#hC)" stroke="#000" stroke-width="0.95" /><path d="M911.2 350L918.2 357.8L938.6 357.8L940.6 360L940.6 475.4L952.8 473.7L956.7 462L958.1 452L958.1 385.9L991.4 385.9L991.4 377.1L978.2 370L965.1 364.9L965.1 345.6L935.4 345.6L935.4 340.7L924 340.7L924 334L926.7 330L926.7 321L924 318L924 310.6L915 301.5L911.2 301.5Z" fill="#fff"/><path d="M911.2 350L918.2 357.8L938.6 357.8L940.6 360L940.6 475.4L952.8 473.7L956.7 462L958.1 452L958.1 385.9L991.4 385.9L991.4 377.1L978.2 370L965.1 364.9L965.1 345.6L935.4 345.6L935.4 340.7L924 340.7L924 334L926.7 330L926.7 321L924 318L924 310.6L915 301.5L911.2 301.5Z" fill="url(#hC)" stroke="#000" stroke-width="0.95" /><path d="M869.2 301.5L911.2 301.5" fill="none" stroke="#000" stroke-width="0.95" /><path d="M862.2 357.8L918.2 357.8" fill="none" stroke="#000" stroke-width="0.95" /><path d="M869.2 350L911.2 350" fill="none" stroke="#000" stroke-width="0.95" /><path d="M822 340.7L822 345.6" fill="none" stroke="#000" stroke-width="0.95" /><path d="M958.4 340.7L958.4 345.6" fill="none" stroke="#000" stroke-width="0.95" /><circle cx="856" cy="325.4" r="7" fill="#fff"/><circle cx="856" cy="325.4" r="7" fill="url(#hX)" stroke="#000" stroke-width="0.95"/><circle cx="924.4" cy="325.4" r="7" fill="#fff"/><circle cx="924.4" cy="325.4" r="7" fill="url(#hX)" stroke="#000" stroke-width="0.95"/><path d="M860.9 411.5L841.6 411.5L841.6 548.4L827.6 548.4L824 565L822.3 591.3L781.2 591.3L777.7 544.9L755.6 544.9L755.6 628L751.2 634.2L751.2 741.5L797.2 741.5L797.2 746.5L805.7 746.5L805.7 843.8L813.8 850.8L827.6 850.8L831 844.6L831 753.6L834.2 746.5L834.2 673.6L844.2 673.6L844.2 592L846.2 588L857.2 588L857.2 522L864.2 522L863.7 517L861.2 512L860.2 507.5L861.7 501L864.7 494.5L864.7 474.6L871.9 474.6L871.9 439.5L870.4 433.4Z" fill="#fff"/><path d="M860.9 411.5L841.6 411.5L841.6 548.4L827.6 548.4L824 565L822.3 591.3L781.2 591.3L777.7 544.9L755.6 544.9L755.6 628L751.2 634.2L751.2 741.5L797.2 741.5L797.2 746.5L805.7 746.5L805.7 843.8L813.8 850.8L827.6 850.8L831 844.6L831 753.6L834.2 746.5L834.2 673.6L844.2 673.6L844.2 592L846.2 588L857.2 588L857.2 522L864.2 522L863.7 517L861.2 512L860.2 507.5L861.7 501L864.7 494.5L864.7 474.6L871.9 474.6L871.9 439.5L870.4 433.4Z" fill="url(#hB)" stroke="#000" stroke-width="0.95" /><path d="M910 433.4L908.5 439.5L908.5 474.6L915.7 474.6L915.7 494.5L918.7 501L920.2 507.5L919.2 512L916.7 517L916.2 522L923.2 522L923.2 588L934.2 588L936.2 592L936.2 673.6L946.2 673.6L946.2 746.5L949.4 753.6L949.4 844.6L952.8 850.8L966.6 850.8L974.7 843.8L974.7 746.5L983.2 746.5L983.2 741.5L1029.2 741.5L1029.2 634.2L1024.8 628L1024.8 544.9L1002.7 544.9L999.2 591.3L958.1 591.3L956.4 565L952.8 548.4L938.8 548.4L938.8 411.5L919.5 411.5Z" fill="#fff"/><path d="M910 433.4L908.5 439.5L908.5 474.6L915.7 474.6L915.7 494.5L918.7 501L920.2 507.5L919.2 512L916.7 517L916.2 522L923.2 522L923.2 588L934.2 588L936.2 592L936.2 673.6L946.2 673.6L946.2 746.5L949.4 753.6L949.4 844.6L952.8 850.8L966.6 850.8L974.7 843.8L974.7 746.5L983.2 746.5L983.2 741.5L1029.2 741.5L1029.2 634.2L1024.8 628L1024.8 544.9L1002.7 544.9L999.2 591.3L958.1 591.3L956.4 565L952.8 548.4L938.8 548.4L938.8 411.5L919.5 411.5Z" fill="url(#hB)" stroke="#000" stroke-width="0.95" /><path d="M759.2 546L759.2 600L756.7 626" fill="none" stroke="#000" stroke-width="0.95" /><path d="M1021.2 546L1021.2 600L1023.7 626" fill="none" stroke="#000" stroke-width="0.95" /><rect x="751.2" y="689.4" width="18.8" height="33.2" rx="3" fill="#fff" stroke="#000" stroke-width="0.95"/><rect x="751.2" y="695.5" width="18.8" height="26.3" rx="6" fill="#fff"/><rect x="751.2" y="695.5" width="18.8" height="26.3" rx="6" fill="url(#hX)" stroke="#000" stroke-width="0.95"/><rect x="1010.4" y="689.4" width="18.8" height="33.2" rx="3" fill="#fff" stroke="#000" stroke-width="0.95"/><rect x="1010.4" y="695.5" width="18.8" height="26.3" rx="6" fill="#fff"/><rect x="1010.4" y="695.5" width="18.8" height="26.3" rx="6" fill="url(#hX)" stroke="#000" stroke-width="0.95"/><rect x="840" y="431.5" width="14.9" height="20.5" rx="2" fill="#fff" stroke="#000" stroke-width="0.95"/><rect x="840" y="434" width="14.9" height="18" rx="3.5" fill="#fff"/><rect x="840" y="434" width="14.9" height="18" rx="3.5" fill="url(#hX)" stroke="#000" stroke-width="0.95"/><rect x="925.5" y="431.5" width="14.9" height="20.5" rx="2" fill="#fff" stroke="#000" stroke-width="0.95"/><rect x="925.5" y="434" width="14.9" height="18" rx="3.5" fill="#fff"/><rect x="925.5" y="434" width="14.9" height="18" rx="3.5" fill="url(#hX)" stroke="#000" stroke-width="0.95"/><path d="M871.9 439.5L908.5 439.5" fill="none" stroke="#000" stroke-width="0.95" /><path d="M888.6 440.4L883.2 446L878.2 456L874.2 466L871.6 475L871.6 520L862.2 522L862.2 574.7L865.2 580L865.2 586L848.2 586L845.6 588.5L845.6 604.5L848.2 607L857.2 608L860.6 612.3L860.6 664L858.2 669L848.2 672L845.6 675.4L845.6 679.7L934.8 679.7L934.8 675.4L932.2 672L922.2 669L919.8 664L919.8 612.3L923.2 608L932.2 607L934.8 604.5L934.8 588.5L932.2 586L915.2 586L915.2 580L918.2 574.7L918.2 522L908.8 520L908.8 475L907.2 466L904.2 456L899.2 446L894 440.4Z" fill="#fff"/><path d="M888.6 440.4L883.2 446L878.2 456L874.2 466L871.6 475L871.6 520L862.2 522L862.2 574.7L865.2 580L865.2 586L848.2 586L845.6 588.5L845.6 604.5L848.2 607L857.2 608L860.6 612.3L860.6 664L858.2 669L848.2 672L845.6 675.4L845.6 679.7L934.8 679.7L934.8 675.4L932.2 672L922.2 669L919.8 664L919.8 612.3L923.2 608L932.2 607L934.8 604.5L934.8 588.5L932.2 586L915.2 586L915.2 580L918.2 574.7L918.2 522L908.8 520L908.8 475L907.2 466L904.2 456L899.2 446L894 440.4Z" fill="url(#hD)" stroke="#000" stroke-width="0.95" /><path d="M860.9 411.5L919.5 411.5" fill="none" stroke="#000" stroke-width="0.95" /><path d="M857.2 524L857.2 572L862.2 577" fill="none" stroke="#000" stroke-width="0.95" /><path d="M923.2 524L923.2 572L918.2 577" fill="none" stroke="#000" stroke-width="0.95" /><circle cx="935.8" cy="654" r="13.1" fill="none" stroke="#000" stroke-width="0.95"/><circle cx="935.8" cy="654" r="8.1" fill="#fff" stroke="#000" stroke-width="0.95"/><path d="M834.2 679.5L946.2 679.5" fill="none" stroke="#000" stroke-width="0.95" /><circle cx="858.8" cy="700.3" r="19.5" fill="#fff"/><circle cx="858.8" cy="700.3" r="19.5" fill="url(#hL)" stroke="#000" stroke-width="0.95"/><circle cx="922.2" cy="700.3" r="19.6" fill="#fff"/><circle cx="922.2" cy="700.3" r="19.6" fill="url(#hL)" stroke="#000" stroke-width="0.95"/><circle cx="876.5" cy="683.4" r="2.4" fill="#fff" stroke="#000" stroke-width="0.95"/><circle cx="884.4" cy="683.4" r="2.4" fill="#fff" stroke="#000" stroke-width="0.95"/><circle cx="892.6" cy="683.4" r="2.4" fill="#fff" stroke="#000" stroke-width="0.95"/><circle cx="900.9" cy="683.4" r="2.4" fill="#fff" stroke="#000" stroke-width="0.95"/><circle cx="906.8" cy="683.4" r="2.4" fill="#fff" stroke="#000" stroke-width="0.95"/><circle cx="874.1" cy="717" r="2.4" fill="#fff" stroke="#000" stroke-width="0.95"/><circle cx="880" cy="717" r="2.4" fill="#fff" stroke="#000" stroke-width="0.95"/><circle cx="888.3" cy="717" r="2.4" fill="#fff" stroke="#000" stroke-width="0.95"/><circle cx="896.6" cy="717" r="2.4" fill="#fff" stroke="#000" stroke-width="0.95"/><circle cx="904.1" cy="717" r="2.4" fill="#fff" stroke="#000" stroke-width="0.95"/><ellipse cx="881.2" cy="700" rx="3.6" ry="13" fill="none" stroke="#000" stroke-width="0.76"/><ellipse cx="889.2" cy="700" rx="3.6" ry="13" fill="none" stroke="#000" stroke-width="0.76"/><ellipse cx="897.2" cy="700" rx="3.6" ry="13" fill="none" stroke="#000" stroke-width="0.76"/><path d="M877.2 688L878.7 712" fill="none" stroke="#000" stroke-width="0.95" /><path d="M903.2 688L901.7 712" fill="none" stroke="#000" stroke-width="0.95" /><path d="M845.1 721.2L845.1 741.3L831.8 753.6L831.8 825.4L840.4 825.4L840.4 874L940 874L940 825.4L948.6 825.4L948.6 753.6L935.3 741.3L935.3 721.2Z" fill="#fff"/><path d="M845.1 721.2L845.1 741.3L831.8 753.6L831.8 825.4L840.4 825.4L840.4 874L940 874L940 825.4L948.6 825.4L948.6 753.6L935.3 741.3L935.3 721.2Z" fill="url(#hD)" stroke="#000" stroke-width="0.95" /><rect x="831.8" y="764" width="19.4" height="32.5" rx="3" fill="#fff" stroke="#000" stroke-width="0.95"/><rect x="831.8" y="764.6" width="19.4" height="25.7" rx="6" fill="#fff"/><rect x="831.8" y="764.6" width="19.4" height="25.7" rx="6" fill="url(#hX)" stroke="#000" stroke-width="0.95"/><rect x="831" y="825.4" width="9.4" height="19.6" rx="0" fill="#fff" stroke="#000" stroke-width="0.95"/><rect x="929.2" y="764" width="19.4" height="32.5" rx="3" fill="#fff" stroke="#000" stroke-width="0.95"/><rect x="929.2" y="764.6" width="19.4" height="25.7" rx="6" fill="#fff"/><rect x="929.2" y="764.6" width="19.4" height="25.7" rx="6" fill="url(#hX)" stroke="#000" stroke-width="0.95"/><rect x="940" y="825.4" width="9.4" height="19.6" rx="0" fill="#fff" stroke="#000" stroke-width="0.95"/><rect x="840.9" y="874.1" width="42" height="27.3" rx="0" fill="#fff" stroke="#000" stroke-width="0.95"/><rect x="898.7" y="874.1" width="42.7" height="27.3" rx="0" fill="#fff" stroke="#000" stroke-width="0.95"/><path d="M797.2 490.7H756.7Q753.8 490.7 753.8 493.5V503.6Q753.8 506.4 756.7 506.4H797.2" fill="#fff" stroke="#000" stroke-width="0.95"/><path d="M797.2 493.2L756.2 493.2" fill="none" stroke="#000" stroke-width="0.95" /><path d="M797.2 504L756.2 504" fill="none" stroke="#000" stroke-width="0.95" /><path d="M939.6 490.7H1023.7Q1026.6 490.7 1026.6 493.5V503.6Q1026.6 506.4 1023.7 506.4H939.6Z" fill="#fff" stroke="#000" stroke-width="0.95"/><path d="M939.6 493.2L1024.2 493.2" fill="none" stroke="#000" stroke-width="0.95" /><path d="M939.6 504L1024.2 504" fill="none" stroke="#000" stroke-width="0.95" /><path d="M777.7 544.9L841.6 544.9" fill="none" stroke="#000" stroke-width="0.95" /><path d="M939.6 544.9L1002.7 544.9" fill="none" stroke="#000" stroke-width="0.95" /><clipPath id="cl890"><rect x="750.2" y="386.4" width="280" height="204.9"/></clipPath><g clip-path="url(#cl890)"><circle cx="809.6" cy="381.5" r="13.1" fill="#fff"/><circle cx="809.6" cy="381.5" r="13.1" fill="url(#hS)" stroke="#000" stroke-width="0.95"/><circle cx="809.6" cy="413.3" r="13.1" fill="#fff"/><circle cx="809.6" cy="413.3" r="13.1" fill="url(#hS)" stroke="#000" stroke-width="0.95"/><circle cx="809.6" cy="456.2" r="13.1" fill="#fff"/><circle cx="809.6" cy="456.2" r="13.1" fill="url(#hS)" stroke="#000" stroke-width="0.95"/><circle cx="809.6" cy="499.1" r="13.1" fill="#fff"/><circle cx="809.6" cy="499.1" r="13.1" fill="url(#hS)" stroke="#000" stroke-width="0.95"/><circle cx="809.6" cy="542.9" r="13.1" fill="#fff"/><circle cx="809.6" cy="542.9" r="13.1" fill="url(#hS)" stroke="#000" stroke-width="0.95"/><circle cx="809.6" cy="581" r="13.1" fill="#fff"/><circle cx="809.6" cy="581" r="13.1" fill="url(#hS)" stroke="#000" stroke-width="0.95"/><circle cx="971.2" cy="396.6" r="13.1" fill="#fff"/><circle cx="971.2" cy="396.6" r="13.1" fill="url(#hS)" stroke="#000" stroke-width="0.95"/><circle cx="971.2" cy="434.3" r="13.1" fill="#fff"/><circle cx="971.2" cy="434.3" r="13.1" fill="url(#hS)" stroke="#000" stroke-width="0.95"/><circle cx="971.2" cy="478.1" r="13.1" fill="#fff"/><circle cx="971.2" cy="478.1" r="13.1" fill="url(#hS)" stroke="#000" stroke-width="0.95"/><circle cx="971.2" cy="521" r="13.1" fill="#fff"/><circle cx="971.2" cy="521" r="13.1" fill="url(#hS)" stroke="#000" stroke-width="0.95"/><circle cx="971.2" cy="563.9" r="13.1" fill="#fff"/><circle cx="971.2" cy="563.9" r="13.1" fill="url(#hS)" stroke="#000" stroke-width="0.95"/><circle cx="971.2" cy="595.5" r="13.1" fill="#fff"/><circle cx="971.2" cy="595.5" r="13.1" fill="url(#hS)" stroke="#000" stroke-width="0.95"/></g><path d="M822.7 490L841.6 491.5" fill="none" stroke="#000" stroke-width="0.95" /><path d="M822.7 533.5L841.6 535.5" fill="none" stroke="#000" stroke-width="0.95" /><path d="M939.6 485.5L958.2 487" fill="none" stroke="#000" stroke-width="0.95" /><path d="M939.6 528L958.2 530" fill="none" stroke="#000" stroke-width="0.95" /><path d="M939.6 497.5L950.2 499L965.2 506L976.2 511" fill="none" stroke="#000" stroke-width="0.95" /><rect x="741.7" y="741.9" width="55.5" height="9.1" rx="0" fill="#fff" stroke="#000" stroke-width="0.95"/><rect x="983.2" y="741.9" width="55.5" height="9.1" rx="0" fill="#fff" stroke="#000" stroke-width="0.95"/><rect x="1089.8" y="248.9" width="235.6" height="3.5" rx="0" fill="#fff" stroke="#000" stroke-width="0.95"/><path d="M1089.8 248.9H1139.7V252.4H1089.8ZM1275.5 248.9H1325.4V252.4H1275.5Z" fill="url(#hT)" stroke="none"/><path d="M1139.7 248.9L1139.7 252.4" fill="none" stroke="#000" stroke-width="0.95" /><path d="M1275.5 248.9L1275.5 252.4" fill="none" stroke="#000" stroke-width="0.95" /><rect x="1089.8" y="278.7" width="235.6" height="3.5" rx="0" fill="#fff" stroke="#000" stroke-width="0.95"/><path d="M1089.8 278.7H1139.7V282.2H1089.8ZM1275.5 278.7H1325.4V282.2H1275.5Z" fill="url(#hT)" stroke="none"/><path d="M1139.7 278.7L1139.7 282.2" fill="none" stroke="#000" stroke-width="0.95" /><path d="M1275.5 278.7L1275.5 282.2" fill="none" stroke="#000" stroke-width="0.95" /><path d="M1090.2 259.2Q1207.6 283.4 1325 259L1325.4 262.2Q1207.6 286.6 1089.8 262.4Z" fill="#fff"/><path d="M1090.2 259.2Q1207.6 283.4 1325 259L1325.4 262.2Q1207.6 286.6 1089.8 262.4Z" fill="url(#hT)" stroke="#000" stroke-width="0.95"/><path d="M1139.7 282.2L1085.1 282.2L1086.4 284L1080.9 286.3L1086.4 288.8L1086.4 291.6L1080.9 293.9L1086.4 296.4L1086.4 299.2L1080.9 301.5L1086.4 304L1086.4 306.8L1080.9 309.1L1086.4 311.6L1086.4 314.4L1080.9 316.7L1086.4 319.2L1086.4 322L1080.9 324.3L1086.4 326.8L1084.1 333L1139.7 333Z" fill="#fff"/><path d="M1139.7 282.2L1085.1 282.2L1086.4 284L1080.9 286.3L1086.4 288.8L1086.4 291.6L1080.9 293.9L1086.4 296.4L1086.4 299.2L1080.9 301.5L1086.4 304L1086.4 306.8L1080.9 309.1L1086.4 311.6L1086.4 314.4L1080.9 316.7L1086.4 319.2L1086.4 322L1080.9 324.3L1086.4 326.8L1084.1 333L1139.7 333Z" fill="url(#hN)" stroke="#000" stroke-width="0.95" /><path d="M1098 282.6V296.5Q1098 299.7 1101.5 299.7H1128.9Q1132.4 299.7 1132.4 296.5V282.6Z" fill="#fff" stroke="#000" stroke-width="0.95"/><path d="M1098 292.3L1132.4 292.3" fill="none" stroke="#000" stroke-width="0.95" /><path d="M1275.5 282.2L1330.1 282.2L1328.8 284L1334.3 286.3L1328.8 288.8L1328.8 291.6L1334.3 293.9L1328.8 296.4L1328.8 299.2L1334.3 301.5L1328.8 304L1328.8 306.8L1334.3 309.1L1328.8 311.6L1328.8 314.4L1334.3 316.7L1328.8 319.2L1328.8 322L1334.3 324.3L1328.8 326.8L1331.1 333L1275.5 333Z" fill="#fff"/><path d="M1275.5 282.2L1330.1 282.2L1328.8 284L1334.3 286.3L1328.8 288.8L1328.8 291.6L1334.3 293.9L1328.8 296.4L1328.8 299.2L1334.3 301.5L1328.8 304L1328.8 306.8L1334.3 309.1L1328.8 311.6L1328.8 314.4L1334.3 316.7L1328.8 319.2L1328.8 322L1334.3 324.3L1328.8 326.8L1331.1 333L1275.5 333Z" fill="url(#hN)" stroke="#000" stroke-width="0.95" /><path d="M1282.8 282.6V296.5Q1282.8 299.7 1286.3 299.7H1313.7Q1317.2 299.7 1317.2 296.5V282.6Z" fill="#fff" stroke="#000" stroke-width="0.95"/><path d="M1282.8 292.3L1317.2 292.3" fill="none" stroke="#000" stroke-width="0.95" /><path d="M1139.7 284.4L1275.5 284.4" fill="none" stroke="#000" stroke-width="0.95" /><rect x="1123.1" y="334.2" width="50.8" height="6.5" fill="#fff"/><rect x="1123.1" y="334.2" width="50.8" height="6.5" rx="0" fill="url(#hT)" stroke="#000" stroke-width="0.95"/><rect x="1123.1" y="336.1" width="50.8" height="2.5" fill="#b4b4b4" stroke="#000" stroke-width="0.57"/><rect x="1241.3" y="334.2" width="50.8" height="6.5" fill="#fff"/><rect x="1241.3" y="334.2" width="50.8" height="6.5" rx="0" fill="url(#hT)" stroke="#000" stroke-width="0.95"/><rect x="1241.3" y="336.1" width="50.8" height="2.5" fill="#b4b4b4" stroke="#000" stroke-width="0.57"/><path d="M1186.6 301.5L1182.8 301.5L1173.8 310.6L1173.8 318L1171.1 321L1171.1 330L1173.8 334L1173.8 340.7L1162.4 340.7L1162.4 345.6L1132.7 345.6L1132.7 364.9L1119.6 370L1106.4 377.1L1106.4 385.9L1139.7 385.9L1139.7 452L1141.1 462L1145 473.7L1157.2 475.4L1157.2 360L1159.2 357.8L1179.6 357.8L1186.6 350L1228.6 350L1235.6 357.8L1256 357.8L1258 360L1258 475.4L1270.2 473.7L1274.1 462L1275.5 452L1275.5 385.9L1308.8 385.9L1308.8 377.1L1295.6 370L1282.5 364.9L1282.5 345.6L1252.8 345.6L1252.8 340.7L1241.3 340.7L1241.3 334L1244.1 330L1244.1 321L1241.3 318L1241.3 310.6L1232.4 301.5L1228.6 301.5Z" fill="#fff" stroke="#000" stroke-width="0.95" /><path d="M1186.6 301.5L1182.8 301.5L1173.8 310.6L1173.8 318L1171.1 321L1171.1 330L1173.8 334L1173.8 340.7L1162.4 340.7L1162.4 345.6L1132.7 345.6L1132.7 364.9L1119.6 370L1106.4 377.1L1106.4 385.9L1139.7 385.9L1139.7 452L1141.1 462L1145 473.7L1157.2 475.4L1157.2 360L1159.2 357.8L1179.6 357.8L1186.6 350Z" fill="#fff"/><path d="M1186.6 301.5L1182.8 301.5L1173.8 310.6L1173.8 318L1171.1 321L1171.1 330L1173.8 334L1173.8 340.7L1162.4 340.7L1162.4 345.6L1132.7 345.6L1132.7 364.9L1119.6 370L1106.4 377.1L1106.4 385.9L1139.7 385.9L1139.7 452L1141.1 462L1145 473.7L1157.2 475.4L1157.2 360L1159.2 357.8L1179.6 357.8L1186.6 350Z" fill="url(#hC)" stroke="#000" stroke-width="0.95" /><path d="M1228.6 350L1235.6 357.8L1256 357.8L1258 360L1258 475.4L1270.2 473.7L1274.1 462L1275.5 452L1275.5 385.9L1308.8 385.9L1308.8 377.1L1295.6 370L1282.5 364.9L1282.5 345.6L1252.8 345.6L1252.8 340.7L1241.3 340.7L1241.3 334L1244.1 330L1244.1 321L1241.3 318L1241.3 310.6L1232.4 301.5L1228.6 301.5Z" fill="#fff"/><path d="M1228.6 350L1235.6 357.8L1256 357.8L1258 360L1258 475.4L1270.2 473.7L1274.1 462L1275.5 452L1275.5 385.9L1308.8 385.9L1308.8 377.1L1295.6 370L1282.5 364.9L1282.5 345.6L1252.8 345.6L1252.8 340.7L1241.3 340.7L1241.3 334L1244.1 330L1244.1 321L1241.3 318L1241.3 310.6L1232.4 301.5L1228.6 301.5Z" fill="url(#hC)" stroke="#000" stroke-width="0.95" /><path d="M1186.6 301.5L1228.6 301.5" fill="none" stroke="#000" stroke-width="0.95" /><path d="M1179.6 357.8L1235.6 357.8" fill="none" stroke="#000" stroke-width="0.95" /><path d="M1186.6 350L1228.6 350" fill="none" stroke="#000" stroke-width="0.95" /><path d="M1139.4 340.7L1139.4 345.6" fill="none" stroke="#000" stroke-width="0.95" /><path d="M1275.8 340.7L1275.8 345.6" fill="none" stroke="#000" stroke-width="0.95" /><circle cx="1173.4" cy="325.4" r="7" fill="#fff"/><circle cx="1173.4" cy="325.4" r="7" fill="url(#hX)" stroke="#000" stroke-width="0.95"/><circle cx="1241.8" cy="325.4" r="7" fill="#fff"/><circle cx="1241.8" cy="325.4" r="7" fill="url(#hX)" stroke="#000" stroke-width="0.95"/><path d="M1178.3 411.5L1159 411.5L1159 548.4L1145 548.4L1141.4 565L1139.7 591.3L1098.6 591.3L1095.1 544.9L1073 544.9L1073 628L1068.6 634.2L1068.6 741.5L1114.6 741.5L1114.6 746.5L1123.1 746.5L1123.1 843.8L1131.2 850.8L1145 850.8L1148.4 844.6L1148.4 753.6L1151.6 746.5L1151.6 673.6L1161.6 673.6L1161.6 592L1163.6 588L1174.6 588L1174.6 522L1181.6 522L1181.1 517L1178.6 512L1177.6 507.5L1179.1 501L1182.1 494.5L1182.1 474.6L1189.3 474.6L1189.3 439.5L1187.8 433.4Z" fill="#fff"/><path d="M1178.3 411.5L1159 411.5L1159 548.4L1145 548.4L1141.4 565L1139.7 591.3L1098.6 591.3L1095.1 544.9L1073 544.9L1073 628L1068.6 634.2L1068.6 741.5L1114.6 741.5L1114.6 746.5L1123.1 746.5L1123.1 843.8L1131.2 850.8L1145 850.8L1148.4 844.6L1148.4 753.6L1151.6 746.5L1151.6 673.6L1161.6 673.6L1161.6 592L1163.6 588L1174.6 588L1174.6 522L1181.6 522L1181.1 517L1178.6 512L1177.6 507.5L1179.1 501L1182.1 494.5L1182.1 474.6L1189.3 474.6L1189.3 439.5L1187.8 433.4Z" fill="url(#hB)" stroke="#000" stroke-width="0.95" /><path d="M1227.4 433.4L1225.9 439.5L1225.9 474.6L1233.1 474.6L1233.1 494.5L1236.1 501L1237.6 507.5L1236.6 512L1234.1 517L1233.6 522L1240.6 522L1240.6 588L1251.6 588L1253.6 592L1253.6 673.6L1263.6 673.6L1263.6 746.5L1266.8 753.6L1266.8 844.6L1270.2 850.8L1284 850.8L1292.1 843.8L1292.1 746.5L1300.6 746.5L1300.6 741.5L1346.6 741.5L1346.6 634.2L1342.2 628L1342.2 544.9L1320.1 544.9L1316.6 591.3L1275.5 591.3L1273.8 565L1270.2 548.4L1256.2 548.4L1256.2 411.5L1236.9 411.5Z" fill="#fff"/><path d="M1227.4 433.4L1225.9 439.5L1225.9 474.6L1233.1 474.6L1233.1 494.5L1236.1 501L1237.6 507.5L1236.6 512L1234.1 517L1233.6 522L1240.6 522L1240.6 588L1251.6 588L1253.6 592L1253.6 673.6L1263.6 673.6L1263.6 746.5L1266.8 753.6L1266.8 844.6L1270.2 850.8L1284 850.8L1292.1 843.8L1292.1 746.5L1300.6 746.5L1300.6 741.5L1346.6 741.5L1346.6 634.2L1342.2 628L1342.2 544.9L1320.1 544.9L1316.6 591.3L1275.5 591.3L1273.8 565L1270.2 548.4L1256.2 548.4L1256.2 411.5L1236.9 411.5Z" fill="url(#hB)" stroke="#000" stroke-width="0.95" /><path d="M1076.6 546L1076.6 600L1074.1 626" fill="none" stroke="#000" stroke-width="0.95" /><path d="M1338.6 546L1338.6 600L1341.1 626" fill="none" stroke="#000" stroke-width="0.95" /><rect x="1068.6" y="689.4" width="18.8" height="33.2" rx="3" fill="#fff" stroke="#000" stroke-width="0.95"/><rect x="1068.6" y="695.5" width="18.8" height="26.3" rx="6" fill="#fff"/><rect x="1068.6" y="695.5" width="18.8" height="26.3" rx="6" fill="url(#hX)" stroke="#000" stroke-width="0.95"/><rect x="1327.8" y="689.4" width="18.8" height="33.2" rx="3" fill="#fff" stroke="#000" stroke-width="0.95"/><rect x="1327.8" y="695.5" width="18.8" height="26.3" rx="6" fill="#fff"/><rect x="1327.8" y="695.5" width="18.8" height="26.3" rx="6" fill="url(#hX)" stroke="#000" stroke-width="0.95"/><rect x="1157.4" y="431.5" width="14.9" height="20.5" rx="2" fill="#fff" stroke="#000" stroke-width="0.95"/><rect x="1157.4" y="434" width="14.9" height="18" rx="3.5" fill="#fff"/><rect x="1157.4" y="434" width="14.9" height="18" rx="3.5" fill="url(#hX)" stroke="#000" stroke-width="0.95"/><rect x="1242.9" y="431.5" width="14.9" height="20.5" rx="2" fill="#fff" stroke="#000" stroke-width="0.95"/><rect x="1242.9" y="434" width="14.9" height="18" rx="3.5" fill="#fff"/><rect x="1242.9" y="434" width="14.9" height="18" rx="3.5" fill="url(#hX)" stroke="#000" stroke-width="0.95"/><path d="M1189.3 439.5L1225.9 439.5" fill="none" stroke="#000" stroke-width="0.95" /><path d="M1206 440.4L1200.6 446L1195.6 456L1191.6 466L1189 475L1189 520L1179.6 522L1179.6 574.7L1182.6 580L1182.6 586L1165.6 586L1163 588.5L1163 604.5L1165.6 607L1174.6 608L1178 612.3L1178 664L1175.6 669L1165.6 672L1163 675.4L1163 679.7L1252.2 679.7L1252.2 675.4L1249.6 672L1239.6 669L1237.2 664L1237.2 612.3L1240.6 608L1249.6 607L1252.2 604.5L1252.2 588.5L1249.6 586L1232.6 586L1232.6 580L1235.6 574.7L1235.6 522L1226.2 520L1226.2 475L1224.6 466L1221.6 456L1216.6 446L1211.4 440.4Z" fill="#fff"/><path d="M1206 440.4L1200.6 446L1195.6 456L1191.6 466L1189 475L1189 520L1179.6 522L1179.6 574.7L1182.6 580L1182.6 586L1165.6 586L1163 588.5L1163 604.5L1165.6 607L1174.6 608L1178 612.3L1178 664L1175.6 669L1165.6 672L1163 675.4L1163 679.7L1252.2 679.7L1252.2 675.4L1249.6 672L1239.6 669L1237.2 664L1237.2 612.3L1240.6 608L1249.6 607L1252.2 604.5L1252.2 588.5L1249.6 586L1232.6 586L1232.6 580L1235.6 574.7L1235.6 522L1226.2 520L1226.2 475L1224.6 466L1221.6 456L1216.6 446L1211.4 440.4Z" fill="url(#hD)" stroke="#000" stroke-width="0.95" /><path d="M1178.3 411.5L1236.9 411.5" fill="none" stroke="#000" stroke-width="0.95" /><path d="M1174.6 524L1174.6 572L1179.6 577" fill="none" stroke="#000" stroke-width="0.95" /><path d="M1240.6 524L1240.6 572L1235.6 577" fill="none" stroke="#000" stroke-width="0.95" /><circle cx="1253.2" cy="654" r="13.1" fill="none" stroke="#000" stroke-width="0.95"/><circle cx="1253.2" cy="654" r="8.1" fill="#fff" stroke="#000" stroke-width="0.95"/><path d="M1151.6 679.5L1263.6 679.5" fill="none" stroke="#000" stroke-width="0.95" /><circle cx="1176.2" cy="700.3" r="19.5" fill="#fff"/><circle cx="1176.2" cy="700.3" r="19.5" fill="url(#hL)" stroke="#000" stroke-width="0.95"/><circle cx="1239.6" cy="700.3" r="19.6" fill="#fff"/><circle cx="1239.6" cy="700.3" r="19.6" fill="url(#hL)" stroke="#000" stroke-width="0.95"/><circle cx="1193.9" cy="683.4" r="2.4" fill="#fff" stroke="#000" stroke-width="0.95"/><circle cx="1201.8" cy="683.4" r="2.4" fill="#fff" stroke="#000" stroke-width="0.95"/><circle cx="1210" cy="683.4" r="2.4" fill="#fff" stroke="#000" stroke-width="0.95"/><circle cx="1218.3" cy="683.4" r="2.4" fill="#fff" stroke="#000" stroke-width="0.95"/><circle cx="1224.2" cy="683.4" r="2.4" fill="#fff" stroke="#000" stroke-width="0.95"/><circle cx="1191.5" cy="717" r="2.4" fill="#fff" stroke="#000" stroke-width="0.95"/><circle cx="1197.4" cy="717" r="2.4" fill="#fff" stroke="#000" stroke-width="0.95"/><circle cx="1205.7" cy="717" r="2.4" fill="#fff" stroke="#000" stroke-width="0.95"/><circle cx="1214" cy="717" r="2.4" fill="#fff" stroke="#000" stroke-width="0.95"/><circle cx="1221.5" cy="717" r="2.4" fill="#fff" stroke="#000" stroke-width="0.95"/><ellipse cx="1198.6" cy="700" rx="3.6" ry="13" fill="none" stroke="#000" stroke-width="0.76"/><ellipse cx="1206.6" cy="700" rx="3.6" ry="13" fill="none" stroke="#000" stroke-width="0.76"/><ellipse cx="1214.6" cy="700" rx="3.6" ry="13" fill="none" stroke="#000" stroke-width="0.76"/><path d="M1194.6 688L1196.1 712" fill="none" stroke="#000" stroke-width="0.95" /><path d="M1220.6 688L1219.1 712" fill="none" stroke="#000" stroke-width="0.95" /><path d="M1162.5 721.2L1162.5 741.3L1149.2 753.6L1149.2 825.4L1157.8 825.4L1157.8 874L1257.4 874L1257.4 825.4L1266 825.4L1266 753.6L1252.7 741.3L1252.7 721.2Z" fill="#fff"/><path d="M1162.5 721.2L1162.5 741.3L1149.2 753.6L1149.2 825.4L1157.8 825.4L1157.8 874L1257.4 874L1257.4 825.4L1266 825.4L1266 753.6L1252.7 741.3L1252.7 721.2Z" fill="url(#hD)" stroke="#000" stroke-width="0.95" /><rect x="1149.2" y="764" width="19.4" height="32.5" rx="3" fill="#fff" stroke="#000" stroke-width="0.95"/><rect x="1149.2" y="764.6" width="19.4" height="25.7" rx="6" fill="#fff"/><rect x="1149.2" y="764.6" width="19.4" height="25.7" rx="6" fill="url(#hX)" stroke="#000" stroke-width="0.95"/><rect x="1148.4" y="825.4" width="9.4" height="19.6" rx="0" fill="#fff" stroke="#000" stroke-width="0.95"/><rect x="1246.6" y="764" width="19.4" height="32.5" rx="3" fill="#fff" stroke="#000" stroke-width="0.95"/><rect x="1246.6" y="764.6" width="19.4" height="25.7" rx="6" fill="#fff"/><rect x="1246.6" y="764.6" width="19.4" height="25.7" rx="6" fill="url(#hX)" stroke="#000" stroke-width="0.95"/><rect x="1257.4" y="825.4" width="9.4" height="19.6" rx="0" fill="#fff" stroke="#000" stroke-width="0.95"/><rect x="1158.3" y="874.1" width="42" height="27.3" rx="0" fill="#fff" stroke="#000" stroke-width="0.95"/><rect x="1216.1" y="874.1" width="42.7" height="27.3" rx="0" fill="#fff" stroke="#000" stroke-width="0.95"/><path d="M1114.6 490.7H1074.1Q1071.2 490.7 1071.2 493.5V503.6Q1071.2 506.4 1074.1 506.4H1114.6" fill="#fff" stroke="#000" stroke-width="0.95"/><path d="M1114.6 493.2L1073.6 493.2" fill="none" stroke="#000" stroke-width="0.95" /><path d="M1114.6 504L1073.6 504" fill="none" stroke="#000" stroke-width="0.95" /><path d="M1257 490.7H1341.1Q1344 490.7 1344 493.5V503.6Q1344 506.4 1341.1 506.4H1257Z" fill="#fff" stroke="#000" stroke-width="0.95"/><path d="M1257 493.2L1341.6 493.2" fill="none" stroke="#000" stroke-width="0.95" /><path d="M1257 504L1341.6 504" fill="none" stroke="#000" stroke-width="0.95" /><path d="M1095.1 544.9L1159 544.9" fill="none" stroke="#000" stroke-width="0.95" /><path d="M1257 544.9L1320.1 544.9" fill="none" stroke="#000" stroke-width="0.95" /><clipPath id="cl1207"><rect x="1067.6" y="386.4" width="280" height="204.9"/></clipPath><g clip-path="url(#cl1207)"><circle cx="1127" cy="381.5" r="13.1" fill="#fff"/><circle cx="1127" cy="381.5" r="13.1" fill="url(#hS)" stroke="#000" stroke-width="0.95"/><circle cx="1127" cy="413.3" r="13.1" fill="#fff"/><circle cx="1127" cy="413.3" r="13.1" fill="url(#hS)" stroke="#000" stroke-width="0.95"/><circle cx="1127" cy="456.2" r="13.1" fill="#fff"/><circle cx="1127" cy="456.2" r="13.1" fill="url(#hS)" stroke="#000" stroke-width="0.95"/><circle cx="1127" cy="499.1" r="13.1" fill="#fff"/><circle cx="1127" cy="499.1" r="13.1" fill="url(#hS)" stroke="#000" stroke-width="0.95"/><circle cx="1127" cy="542.9" r="13.1" fill="#fff"/><circle cx="1127" cy="542.9" r="13.1" fill="url(#hS)" stroke="#000" stroke-width="0.95"/><circle cx="1127" cy="581" r="13.1" fill="#fff"/><circle cx="1127" cy="581" r="13.1" fill="url(#hS)" stroke="#000" stroke-width="0.95"/><circle cx="1288.6" cy="396.6" r="13.1" fill="#fff"/><circle cx="1288.6" cy="396.6" r="13.1" fill="url(#hS)" stroke="#000" stroke-width="0.95"/><circle cx="1288.6" cy="434.3" r="13.1" fill="#fff"/><circle cx="1288.6" cy="434.3" r="13.1" fill="url(#hS)" stroke="#000" stroke-width="0.95"/><circle cx="1288.6" cy="478.1" r="13.1" fill="#fff"/><circle cx="1288.6" cy="478.1" r="13.1" fill="url(#hS)" stroke="#000" stroke-width="0.95"/><circle cx="1288.6" cy="521" r="13.1" fill="#fff"/><circle cx="1288.6" cy="521" r="13.1" fill="url(#hS)" stroke="#000" stroke-width="0.95"/><circle cx="1288.6" cy="563.9" r="13.1" fill="#fff"/><circle cx="1288.6" cy="563.9" r="13.1" fill="url(#hS)" stroke="#000" stroke-width="0.95"/><circle cx="1288.6" cy="595.5" r="13.1" fill="#fff"/><circle cx="1288.6" cy="595.5" r="13.1" fill="url(#hS)" stroke="#000" stroke-width="0.95"/></g><path d="M1140.1 490L1159 491.5" fill="none" stroke="#000" stroke-width="0.95" /><path d="M1140.1 533.5L1159 535.5" fill="none" stroke="#000" stroke-width="0.95" /><path d="M1257 485.5L1275.6 487" fill="none" stroke="#000" stroke-width="0.95" /><path d="M1257 528L1275.6 530" fill="none" stroke="#000" stroke-width="0.95" /><path d="M1257 497.5L1267.6 499L1282.6 506L1293.6 511" fill="none" stroke="#000" stroke-width="0.95" /><rect x="1059.1" y="741.9" width="55.5" height="9.1" rx="0" fill="#fff" stroke="#000" stroke-width="0.95"/><rect x="1300.6" y="741.9" width="55.5" height="9.1" rx="0" fill="#fff" stroke="#000" stroke-width="0.95"/><path d="M747.3 764.2H805.7M974.7 764.2H1033M1064.8 764.2H1123.1M1292 764.2H1352.4M747.3 767.7H805.7M1292 767.7H1352.4M974 776.3H1124.2M785.8 776.3H805M1293 776.3H1312M974 776.3V980M1124.2 776.3V980M804.6 796.5V890M1294.6 796.5V890" fill="none" stroke="#000" stroke-width="0.95"/></g><path d="M658.8 365.4A426.4 426.4 0 0 1 1438.7 364.7" fill="none" stroke="#000" stroke-width="0.95"/><path d="M1293.5 886.8A426.4 426.4 0 0 1 804.3 886.8" fill="none" stroke="#000" stroke-width="0.95"/><path d="M659.3 365.8L664.5 377.2L672.4 377.7L682 372.8L692.5 375.4L712.7 371.9L719.7 380.7M681.2 322.9L691.7 339.5Q705 336.5 719.7 336M675.9 334.3L683.8 347.4L691.7 339.5M668 348.3L682 371.9M664.5 353.6V377.2M683.8 347.4V372.8M719.7 420.1L715.3 424.5V449.9L719.7 455.1M1385.1 276.4L1378.1 293M1400.8 299.2Q1388 308 1380.7 321.1M1378.1 317.6Q1386 333 1400.8 350L1407 358.7M1392.1 325.4L1428.9 342.1M1434.1 356.1L1438.5 364.9L1434.1 376.2L1426.2 378L1407 366.6M1392.1 325.4L1387.2 331.6V338.6L1400.8 350M1407 358.7V384.1M1434.1 356.1V376.2M1392.1 325.4V342.1M1407 384.1Q1395 402 1378.1 420M1400.8 350.8Q1391 364 1378.1 375.4M1377.8 418.4L1383.6 424.2V451.2L1377.8 456.5M774.4 767.7Q778 788 782.3 803.6T791.1 833.3T804.6 859.6M774.4 767.7Q781 771 787.6 777.3T798 789.5L804.6 797.4M804.6 797.4Q805 810 806 821T813.8 850.8Q819 866 826.1 878.9T840.1 901.6T852.4 915.6Q864 925 878.6 929.6M813.8 850.8Q822 874 833 893T852.4 915.6M833.1 850.8L840.1 868.4M858.5 901.6L875.1 926.1M1322.6 767.7Q1322 785 1319.1 800T1308.6 835.1T1294.6 859.6M1315.6 770.3Q1308 777 1301.6 786T1292 800M1284.9 850Q1281 862 1275.3 873.6T1261.3 901.6T1245.5 915.6Q1232 925 1217.5 929.6M1284.9 850Q1277 874 1266 893T1245.5 915.6M1264.8 850.8L1257.8 868.4M1237.7 901.6L1219.3 929.6" stroke="#000" stroke-width="0.9" fill="none"/><g opacity="0.999"><path d="M1441.6 69.4L1232.4 236.1" stroke="#000" stroke-width="0.8" fill="none"/><path d="M1216.8 248.6L1240.3 237.9L1232.4 228.1Z" fill="#000"/><circle cx="1451.5" cy="61.5" r="12.6" fill="#fff" stroke="#000" stroke-width="0.95"/><text x="1451.1" y="67.5" font-size="17.4" text-anchor="middle" textLength="18.4" lengthAdjust="spacingAndGlyphs" stroke="#000" stroke-width="0.4">18</text><path d="M1442.5 137L1313.5 264.3" stroke="#000" stroke-width="0.8" fill="none"/><path d="M1299.3 278.3L1321.5 265.2L1312.7 256.3Z" fill="#000"/><circle cx="1451.5" cy="128.2" r="12.6" fill="#fff" stroke="#000" stroke-width="0.95"/><text x="1451.1" y="134.2" font-size="17.4" text-anchor="middle" textLength="18.4" lengthAdjust="spacingAndGlyphs" stroke="#000" stroke-width="0.4">20</text><path d="M1441.6 193.8L1346.5 269.6" stroke="#000" stroke-width="0.8" fill="none"/><path d="M1330.8 282L1354.3 271.4L1346.4 261.5Z" fill="#000"/><circle cx="1451.5" cy="186" r="12.6" fill="#fff" stroke="#000" stroke-width="0.95"/><text x="1451.1" y="192" font-size="17.4" text-anchor="middle" textLength="18.4" lengthAdjust="spacingAndGlyphs" stroke="#000" stroke-width="0.4">21</text><path d="M1461.6 250.4L1265.2 314.1" stroke="#000" stroke-width="0.8" fill="none"/><path d="M1246.2 320.3L1271.9 318.6L1268 306.6Z" fill="#000"/><circle cx="1473.6" cy="246.5" r="12.6" fill="#fff" stroke="#000" stroke-width="0.95"/><text x="1473.2" y="252.5" font-size="17.4" text-anchor="middle" textLength="18.4" lengthAdjust="spacingAndGlyphs" stroke="#000" stroke-width="0.4">33</text><path d="M740.7 184.2L796.5 250" stroke="#000" stroke-width="0.8" fill="none"/><path d="M809.4 265.2L798 242.1L788.4 250.2Z" fill="#000"/><circle cx="732.5" cy="174.6" r="12.6" fill="#fff" stroke="#000" stroke-width="0.95"/><text x="732.1" y="180.6" font-size="17.4" text-anchor="middle" textLength="18.4" lengthAdjust="spacingAndGlyphs" stroke="#000" stroke-width="0.4">19</text><path d="M605.7 417.2L788.7 347.8" stroke="#000" stroke-width="0.8" fill="none"/><path d="M807.4 340.7L781.8 343.7L786.3 355.5Z" fill="#000"/><circle cx="593.9" cy="421.7" r="12.6" fill="#fff" stroke="#000" stroke-width="0.95"/><text x="593.5" y="427.7" font-size="17.4" text-anchor="middle" textLength="18.4" lengthAdjust="spacingAndGlyphs" stroke="#000" stroke-width="0.4">32</text><path d="M606.3 469.4L803.1 436" stroke="#000" stroke-width="0.8" fill="none"/><path d="M822.8 432.7L797.1 430.7L799.2 443.1Z" fill="#000"/><circle cx="593.9" cy="471.5" r="12.6" fill="#fff" stroke="#000" stroke-width="0.95"/><text x="593.5" y="477.5" font-size="17.4" text-anchor="middle" textLength="18.4" lengthAdjust="spacingAndGlyphs" stroke="#000" stroke-width="0.4">31</text><path d="M610 527.7L906.4 443.3" stroke="#000" stroke-width="0.8" fill="none"/><path d="M925.6 437.8L899.8 438.6L903.3 450.7Z" fill="#000"/><circle cx="597.9" cy="531.2" r="12.6" fill="#fff" stroke="#000" stroke-width="0.95"/><text x="597.5" y="537.2" font-size="17.4" text-anchor="middle" textLength="18.4" lengthAdjust="spacingAndGlyphs" stroke="#000" stroke-width="0.4">28</text><path d="M606.3 613.6L792.5 649.1" stroke="#000" stroke-width="0.8" fill="none"/><circle cx="792.5" cy="649.1" r="6.3" fill="#000"/><circle cx="593.9" cy="611.2" r="12.6" fill="#fff" stroke="#000" stroke-width="0.95"/><text x="593.5" y="617.2" font-size="17.4" text-anchor="middle" textLength="18.4" lengthAdjust="spacingAndGlyphs" stroke="#000" stroke-width="0.4">27</text><path d="M605.7 755.2L904.7 669" stroke="#000" stroke-width="0.8" fill="none"/><path d="M923.9 663.5L898.1 664.4L901.6 676.5Z" fill="#000"/><circle cx="593.6" cy="758.7" r="12.6" fill="#fff" stroke="#000" stroke-width="0.95"/><text x="593.2" y="764.7" font-size="17.4" text-anchor="middle" textLength="18.4" lengthAdjust="spacingAndGlyphs" stroke="#000" stroke-width="0.4">34</text><path d="M598.9 855.5L857.7 699" stroke="#000" stroke-width="0.8" fill="none"/><circle cx="857.7" cy="699" r="6.3" fill="#000"/><circle cx="588.1" cy="862" r="12.6" fill="#fff" stroke="#000" stroke-width="0.95"/><text x="587.7" y="868" font-size="17.4" text-anchor="middle" textLength="18.4" lengthAdjust="spacingAndGlyphs" stroke="#000" stroke-width="0.4">35</text><path d="M600.3 899.5L1017.6 706.9" stroke="#000" stroke-width="0.8" fill="none"/><circle cx="1017.6" cy="706.9" r="6.3" fill="#000"/><circle cx="588.9" cy="904.8" r="12.6" fill="#fff" stroke="#000" stroke-width="0.95"/><text x="588.5" y="910.8" font-size="17.4" text-anchor="middle" textLength="18.4" lengthAdjust="spacingAndGlyphs" stroke="#000" stroke-width="0.4">29</text><path d="M1448.9 445L1320.5 467.9" stroke="#000" stroke-width="0.8" fill="none"/><path d="M1300.8 471.4L1326.5 473.2L1324.3 460.8Z" fill="#000"/><circle cx="1461.3" cy="442.8" r="12.6" fill="#fff" stroke="#000" stroke-width="0.95"/><text x="1460.9" y="448.8" font-size="17.4" text-anchor="middle" textLength="18.4" lengthAdjust="spacingAndGlyphs" stroke="#000" stroke-width="0.4">30</text><path d="M1445.5 522.8L1297.2 626.7" stroke="#000" stroke-width="0.8" fill="none"/><circle cx="1297.2" cy="626.7" r="6.3" fill="#000"/><circle cx="1455.8" cy="515.6" r="12.6" fill="#fff" stroke="#000" stroke-width="0.95"/><text x="1455.4" y="521.6" font-size="17.4" text-anchor="middle" textLength="18.4" lengthAdjust="spacingAndGlyphs" stroke="#000" stroke-width="0.4">39</text><path d="M1427.5 614.9L1237.7 678.3" stroke="#000" stroke-width="0.8" fill="none"/><path d="M1218.7 684.6L1244.4 682.7L1240.4 670.7Z" fill="#000"/><circle cx="1439.5" cy="610.9" r="12.6" fill="#fff" stroke="#000" stroke-width="0.95"/><text x="1439.1" y="616.9" font-size="17.4" text-anchor="middle" textLength="18.4" lengthAdjust="spacingAndGlyphs" stroke="#000" stroke-width="0.4">36</text><path d="M1401.3 831.9L1334 765.5" stroke="#000" stroke-width="0.8" fill="none"/><path d="M1319.8 751.4L1333.2 773.5L1342 764.5Z" fill="#000"/><circle cx="1410.3" cy="840.8" r="12.6" fill="#fff" stroke="#000" stroke-width="0.95"/><text x="1409.9" y="846.8" font-size="17.4" text-anchor="middle" textLength="18.4" lengthAdjust="spacingAndGlyphs" stroke="#000" stroke-width="0.4">40</text><path d="M1359.2 864.9L1256 775.3" stroke="#000" stroke-width="0.8" fill="none"/><circle cx="1256" cy="775.3" r="6.3" fill="#000"/><circle cx="1368.7" cy="873.2" r="12.6" fill="#fff" stroke="#000" stroke-width="0.95"/><text x="1368.3" y="879.2" font-size="17.4" text-anchor="middle" textLength="18.4" lengthAdjust="spacingAndGlyphs" stroke="#000" stroke-width="0.4">37</text><path d="M1356 957.8L1211.2 847.7" stroke="#000" stroke-width="0.8" fill="none"/><circle cx="1211.2" cy="847.7" r="6.3" fill="#000"/><circle cx="1366" cy="965.4" r="12.6" fill="#fff" stroke="#000" stroke-width="0.95"/><text x="1365.6" y="971.4" font-size="17.4" text-anchor="middle" textLength="18.4" lengthAdjust="spacingAndGlyphs" stroke="#000" stroke-width="0.4">38</text><text x="934.3" y="1027.5" font-size="23.5" font-weight="normal" font-style="normal" textLength="92.8" lengthAdjust="spacingAndGlyphs" stroke="#000" stroke-width="0.25">DETAIL A</text><text x="925.8" y="1048.8" font-size="23.5" font-weight="normal" font-style="normal" textLength="116.4" lengthAdjust="spacingAndGlyphs" stroke="#000" stroke-width="0.25">SCALE 4 : 1</text><text x="292.6" y="688" font-size="23.5" font-weight="normal" font-style="normal" textLength="128.4" lengthAdjust="spacingAndGlyphs" stroke="#000" stroke-width="0.25">SECTION E-E</text><text x="300.9" y="709.8" font-size="23.5" font-weight="normal" font-style="normal" textLength="117.5" lengthAdjust="spacingAndGlyphs" stroke="#000" stroke-width="0.25">SCALE 1 : 1</text><path d="M1517 1133V1023.6H1770.5M1517 1091.4H1770.5M1517 1118.3H1770.5M1550.6 1091.4V1118.3M1736.2 1091.4V1118.3M1643.5 1118.3V1133" stroke="#000" stroke-width="1.1" fill="none"/><text x="1520.3" y="1030.6" font-size="7" font-weight="normal" font-style="normal" textLength="16.9" lengthAdjust="spacingAndGlyphs" stroke="#000" stroke-width="0">TITLE:</text><text x="1570.4" y="1052.7" font-size="21.7" font-weight="bold" font-style="italic" textLength="145.6" lengthAdjust="spacingAndGlyphs" stroke="#000" stroke-width="0">DB FSAE Shock</text><text x="1549.8" y="1079.6" font-size="21.2" font-weight="bold" font-style="italic" textLength="187.5" lengthAdjust="spacingAndGlyphs" stroke="#000" stroke-width="0">2009/2010 - 200/57</text><text x="1528.2" y="1098.9" font-size="7.5" font-weight="normal" font-style="normal" textLength="11.4" lengthAdjust="spacingAndGlyphs" stroke="#000" stroke-width="0">SIZE</text><text x="1528.5" y="1116" font-size="20.5" font-weight="normal" font-style="normal" textLength="10.3" lengthAdjust="spacingAndGlyphs" stroke="#000" stroke-width="0.2">B</text><text x="1553.5" y="1098.9" font-size="7.5" font-weight="normal" font-style="normal" textLength="27.2" lengthAdjust="spacingAndGlyphs" stroke="#000" stroke-width="0">Part No.</text><text x="1555.7" y="1114.7" font-size="18.6" font-weight="bold" font-style="normal" textLength="160.8" lengthAdjust="spacingAndGlyphs" stroke="#000" stroke-width="0">DB-FSAE 2009/2010</text><text x="1746" y="1098.9" font-size="7.5" font-weight="normal" font-style="normal" textLength="15.9" lengthAdjust="spacingAndGlyphs" stroke="#000" stroke-width="0">REV.</text><text x="1744.5" y="1116.3" font-size="21" font-weight="bold" font-style="normal" textLength="15.8" lengthAdjust="spacingAndGlyphs" stroke="#000" stroke-width="0">A</text><text x="1553" y="1129.8" font-size="10.9" font-weight="normal" font-style="normal" textLength="50.6" lengthAdjust="spacingAndGlyphs" stroke="#000" stroke-width="0.1">SCALE: 1:2</text><text x="1673.3" y="1129.8" font-size="10.9" font-weight="normal" font-style="normal" textLength="60.1" lengthAdjust="spacingAndGlyphs" stroke="#000" stroke-width="0.1">SHEET 2 OF 3</text></g></svg></body></html>
